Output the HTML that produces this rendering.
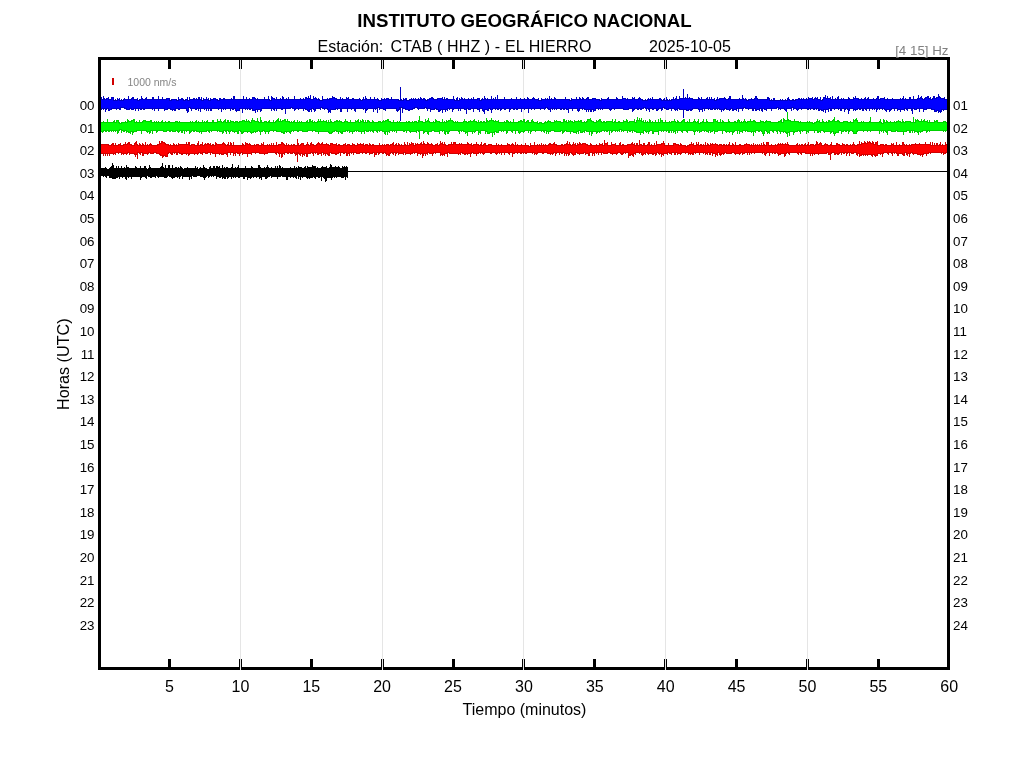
<!DOCTYPE html>
<html><head><meta charset="utf-8"><style>
html,body{margin:0;padding:0;width:1024px;height:768px;overflow:hidden;background:#fff;font-family:"Liberation Sans",sans-serif}
</style></head><body>
<svg width="1024" height="768" viewBox="0 0 1024 768" style="position:absolute;left:0;top:0;will-change:transform"><line x1="240.5" y1="60" x2="240.5" y2="670" stroke="#e5e5e5" stroke-width="1"/><line x1="382.5" y1="60" x2="382.5" y2="670" stroke="#e5e5e5" stroke-width="1"/><line x1="523.5" y1="60" x2="523.5" y2="670" stroke="#e5e5e5" stroke-width="1"/><line x1="665.5" y1="60" x2="665.5" y2="670" stroke="#e5e5e5" stroke-width="1"/><line x1="807.5" y1="60" x2="807.5" y2="670" stroke="#e5e5e5" stroke-width="1"/><path d="M99.5 99V111M100.5 99V112M101.5 97V110M102.5 99V109M103.5 96V110M104.5 98V109M105.5 99V112M106.5 98V110M107.5 98V109M108.5 97V111M109.5 99V111M110.5 99V110M111.5 97V110M112.5 97V109M113.5 97V109M114.5 100V109M115.5 99V109M116.5 100V110M117.5 98V109M118.5 99V109M119.5 98V110M120.5 100V110M121.5 99V108M122.5 100V108M123.5 99V108M124.5 98V109M125.5 99V109M126.5 99V110M127.5 99V110M128.5 96V110M129.5 99V110M130.5 99V109M131.5 98V110M132.5 97V110M133.5 97V110M134.5 99V109M135.5 99V111M136.5 99V109M137.5 98V109M138.5 100V111M139.5 99V109M140.5 99V110M141.5 96V110M142.5 98V109M143.5 99V110M144.5 99V110M145.5 98V109M146.5 97V109M147.5 99V109M148.5 99V109M149.5 99V109M150.5 99V109M151.5 99V109M152.5 97V110M153.5 97V109M154.5 99V111M155.5 99V109M156.5 99V109M157.5 99V109M158.5 96V111M159.5 99V109M160.5 99V109M161.5 99V109M162.5 97V109M163.5 99V109M164.5 99V111M165.5 99V110M166.5 98V110M167.5 98V110M168.5 98V109M169.5 98V109M170.5 100V110M171.5 99V110M172.5 99V111M173.5 99V110M174.5 99V111M175.5 99V111M176.5 99V109M177.5 100V109M178.5 97V110M179.5 99V110M180.5 99V109M181.5 98V109M182.5 98V109M183.5 99V109M184.5 100V109M185.5 99V109M186.5 99V111M187.5 97V113M188.5 100V112M189.5 97V108M190.5 99V109M191.5 99V111M192.5 99V109M193.5 98V109M194.5 98V109M195.5 99V110M196.5 98V110M197.5 99V109M198.5 97V111M199.5 97V109M200.5 99V112M201.5 97V109M202.5 100V109M203.5 98V109M204.5 99V110M205.5 99V109M206.5 97V111M207.5 99V109M208.5 98V111M209.5 100V109M210.5 98V111M211.5 99V111M212.5 99V109M213.5 98V109M214.5 98V109M215.5 98V109M216.5 99V109M217.5 99V109M218.5 100V110M219.5 98V109M220.5 98V109M221.5 99V112M222.5 99V109M223.5 98V110M224.5 98V109M225.5 99V110M226.5 99V109M227.5 99V109M228.5 99V109M229.5 99V109M230.5 99V111M231.5 98V109M232.5 99V110M233.5 96V110M234.5 96V109M235.5 99V111M236.5 99V112M237.5 99V111M238.5 99V111M239.5 99V111M240.5 99V109M241.5 99V109M242.5 99V113M243.5 96V109M244.5 99V109M245.5 99V110M246.5 97V109M247.5 99V110M248.5 99V109M249.5 98V110M250.5 99V110M251.5 99V109M252.5 97V111M253.5 97V111M254.5 97V111M255.5 98V113M256.5 99V110M257.5 98V112M258.5 99V110M259.5 99V110M260.5 99V112M261.5 99V111M262.5 99V109M263.5 99V109M264.5 97V109M265.5 99V109M266.5 99V109M267.5 99V109M268.5 96V109M269.5 99V109M270.5 100V109M271.5 96V111M272.5 97V109M273.5 98V110M274.5 98V111M275.5 99V109M276.5 97V111M277.5 99V109M278.5 99V109M279.5 99V109M280.5 98V109M281.5 99V110M282.5 96V110M283.5 97V109M284.5 99V109M285.5 99V114M286.5 98V109M287.5 99V109M288.5 97V109M289.5 99V109M290.5 99V109M291.5 99V108M292.5 99V109M293.5 99V109M294.5 96V111M295.5 99V110M296.5 99V109M297.5 99V109M298.5 99V110M299.5 99V109M300.5 98V109M301.5 99V109M302.5 99V109M303.5 98V111M304.5 99V109M305.5 97V110M306.5 97V110M307.5 98V111M308.5 96V112M309.5 98V112M310.5 95V110M311.5 99V112M312.5 99V109M313.5 96V110M314.5 98V112M315.5 97V111M316.5 98V109M317.5 99V109M318.5 98V109M319.5 99V109M320.5 100V110M321.5 100V108M322.5 96V109M323.5 99V109M324.5 99V110M325.5 99V109M326.5 99V109M327.5 98V110M328.5 99V113M329.5 98V112M330.5 98V113M331.5 98V110M332.5 96V110M333.5 97V110M334.5 97V110M335.5 98V110M336.5 98V109M337.5 99V110M338.5 99V109M339.5 99V109M340.5 97V112M341.5 99V112M342.5 98V109M343.5 99V109M344.5 99V109M345.5 99V109M346.5 97V109M347.5 98V112M348.5 97V109M349.5 99V109M350.5 99V109M351.5 99V110M352.5 98V109M353.5 98V109M354.5 99V111M355.5 99V112M356.5 99V109M357.5 99V109M358.5 99V109M359.5 98V109M360.5 99V109M361.5 100V109M362.5 99V109M363.5 97V110M364.5 99V109M365.5 96V113M366.5 98V111M367.5 99V110M368.5 99V109M369.5 99V109M370.5 97V109M371.5 99V109M372.5 99V109M373.5 99V112M374.5 97V109M375.5 99V110M376.5 99V109M377.5 98V113M378.5 99V108M379.5 100V110M380.5 100V109M381.5 98V109M382.5 99V109M383.5 99V110M384.5 98V110M385.5 99V111M386.5 98V109M387.5 98V109M388.5 98V109M389.5 99V109M390.5 99V109M391.5 97V109M392.5 99V109M393.5 99V109M394.5 99V109M395.5 99V109M396.5 99V111M397.5 99V112M398.5 99V111M399.5 100V110M400.5 100V108M401.5 99V108M402.5 100V113M403.5 98V109M404.5 99V109M405.5 98V110M406.5 98V110M407.5 100V110M408.5 100V111M409.5 99V111M410.5 99V110M411.5 98V110M412.5 99V110M413.5 98V109M414.5 99V109M415.5 98V108M416.5 99V108M417.5 99V109M418.5 98V110M419.5 99V109M420.5 97V109M421.5 98V109M422.5 99V109M423.5 98V109M424.5 98V109M425.5 99V108M426.5 100V109M427.5 99V111M428.5 99V109M429.5 98V109M430.5 98V112M431.5 97V110M432.5 97V110M433.5 98V110M434.5 99V110M435.5 99V109M436.5 99V110M437.5 98V110M438.5 98V112M439.5 98V112M440.5 98V111M441.5 98V110M442.5 97V113M443.5 99V110M444.5 97V110M445.5 99V112M446.5 98V110M447.5 98V111M448.5 99V109M449.5 99V110M450.5 99V109M451.5 99V109M452.5 99V112M453.5 96V110M454.5 99V109M455.5 100V109M456.5 98V109M457.5 97V109M458.5 100V111M459.5 98V109M460.5 99V111M461.5 97V109M462.5 98V109M463.5 99V109M464.5 98V110M465.5 99V110M466.5 99V114M467.5 99V109M468.5 98V110M469.5 99V110M470.5 99V110M471.5 98V109M472.5 99V109M473.5 97V112M474.5 99V109M475.5 99V109M476.5 99V109M477.5 98V110M478.5 98V110M479.5 98V112M480.5 100V109M481.5 99V109M482.5 98V111M483.5 99V112M484.5 96V114M485.5 98V110M486.5 99V110M487.5 98V111M488.5 99V111M489.5 99V109M490.5 99V110M491.5 96V113M492.5 99V110M493.5 98V109M494.5 99V109M495.5 97V110M496.5 99V109M497.5 95V110M498.5 99V110M499.5 99V109M500.5 99V111M501.5 99V110M502.5 99V109M503.5 99V109M504.5 97V110M505.5 99V110M506.5 99V109M507.5 99V109M508.5 99V109M509.5 99V112M510.5 99V110M511.5 98V109M512.5 99V109M513.5 99V110M514.5 99V110M515.5 99V109M516.5 97V110M517.5 99V110M518.5 99V109M519.5 99V109M520.5 98V109M521.5 99V112M522.5 99V109M523.5 99V109M524.5 98V110M525.5 99V109M526.5 99V109M527.5 97V109M528.5 98V113M529.5 99V109M530.5 99V109M531.5 99V110M532.5 98V109M533.5 97V109M534.5 98V110M535.5 99V109M536.5 99V109M537.5 99V109M538.5 98V109M539.5 100V109M540.5 100V110M541.5 98V109M542.5 99V109M543.5 99V109M544.5 99V110M545.5 98V109M546.5 99V108M547.5 98V109M548.5 99V110M549.5 96V110M550.5 99V112M551.5 98V109M552.5 99V110M553.5 99V109M554.5 97V110M555.5 98V109M556.5 99V110M557.5 99V109M558.5 99V109M559.5 99V109M560.5 99V110M561.5 99V110M562.5 99V109M563.5 99V110M564.5 99V110M565.5 97V109M566.5 99V110M567.5 99V110M568.5 99V113M569.5 99V109M570.5 100V109M571.5 98V109M572.5 99V111M573.5 99V109M574.5 99V109M575.5 99V109M576.5 97V109M577.5 99V111M578.5 99V112M579.5 97V111M580.5 98V109M581.5 99V109M582.5 97V110M583.5 98V109M584.5 99V110M585.5 99V110M586.5 98V112M587.5 97V110M588.5 97V112M589.5 99V110M590.5 99V112M591.5 99V112M592.5 98V110M593.5 98V112M594.5 98V111M595.5 98V111M596.5 99V109M597.5 99V109M598.5 99V110M599.5 99V109M600.5 100V110M601.5 98V109M602.5 99V110M603.5 99V109M604.5 99V109M605.5 99V109M606.5 99V109M607.5 98V109M608.5 97V109M609.5 99V110M610.5 99V111M611.5 99V110M612.5 99V109M613.5 99V109M614.5 99V110M615.5 99V109M616.5 97V109M617.5 98V109M618.5 99V109M619.5 99V109M620.5 99V109M621.5 99V109M622.5 96V109M623.5 98V110M624.5 98V110M625.5 98V110M626.5 99V110M627.5 98V110M628.5 99V110M629.5 99V109M630.5 99V109M631.5 99V109M632.5 97V112M633.5 98V111M634.5 97V110M635.5 99V109M636.5 99V109M637.5 99V110M638.5 98V110M639.5 97V109M640.5 98V110M641.5 99V110M642.5 99V109M643.5 100V109M644.5 100V108M645.5 99V109M646.5 100V111M647.5 99V109M648.5 98V110M649.5 99V112M650.5 98V109M651.5 99V109M652.5 97V110M653.5 99V110M654.5 99V109M655.5 99V109M656.5 99V111M657.5 99V111M658.5 99V110M659.5 98V109M660.5 98V109M661.5 99V111M662.5 100V110M663.5 99V108M664.5 98V109M665.5 100V109M666.5 97V110M667.5 99V110M668.5 100V110M669.5 99V109M670.5 100V109M671.5 99V111M672.5 99V109M673.5 97V109M674.5 99V110M675.5 98V111M676.5 96V110M677.5 99V111M678.5 99V109M679.5 96V110M680.5 98V110M681.5 98V110M682.5 98V110M683.5 98V110M684.5 98V110M685.5 97V110M686.5 98V111M687.5 94V111M688.5 98V111M689.5 97V110M690.5 98V111M691.5 98V111M692.5 98V110M693.5 99V109M694.5 99V109M695.5 99V109M696.5 99V109M697.5 99V109M698.5 97V110M699.5 98V112M700.5 99V110M701.5 97V110M702.5 99V112M703.5 99V109M704.5 99V111M705.5 99V109M706.5 98V109M707.5 97V109M708.5 99V110M709.5 97V109M710.5 99V110M711.5 97V110M712.5 99V110M713.5 99V109M714.5 98V110M715.5 100V110M716.5 99V109M717.5 97V110M718.5 99V109M719.5 98V110M720.5 98V110M721.5 98V112M722.5 98V110M723.5 98V111M724.5 97V110M725.5 98V109M726.5 99V110M727.5 99V110M728.5 98V110M729.5 96V111M730.5 96V110M731.5 99V109M732.5 99V111M733.5 99V111M734.5 99V110M735.5 99V110M736.5 99V111M737.5 99V109M738.5 99V112M739.5 98V109M740.5 99V109M741.5 99V109M742.5 95V111M743.5 98V109M744.5 99V108M745.5 98V109M746.5 99V109M747.5 100V109M748.5 99V110M749.5 99V109M750.5 99V109M751.5 98V109M752.5 99V111M753.5 99V111M754.5 98V109M755.5 96V111M756.5 96V111M757.5 98V110M758.5 99V110M759.5 99V111M760.5 99V109M761.5 99V111M762.5 99V112M763.5 99V109M764.5 99V110M765.5 99V110M766.5 99V111M767.5 97V109M768.5 97V109M769.5 98V109M770.5 100V109M771.5 99V111M772.5 100V109M773.5 98V109M774.5 98V109M775.5 100V109M776.5 100V109M777.5 100V108M778.5 100V110M779.5 100V109M780.5 99V110M781.5 100V109M782.5 99V109M783.5 100V109M784.5 100V110M785.5 99V111M786.5 100V112M787.5 98V109M788.5 97V109M789.5 99V109M790.5 100V109M791.5 100V111M792.5 99V108M793.5 99V110M794.5 100V109M795.5 99V109M796.5 99V110M797.5 99V111M798.5 98V110M799.5 98V109M800.5 99V109M801.5 98V110M802.5 99V109M803.5 98V109M804.5 99V109M805.5 99V109M806.5 98V109M807.5 99V110M808.5 97V110M809.5 98V109M810.5 98V110M811.5 98V109M812.5 97V109M813.5 99V110M814.5 98V110M815.5 97V109M816.5 98V110M817.5 97V109M818.5 99V111M819.5 99V111M820.5 97V110M821.5 100V111M822.5 99V111M823.5 97V112M824.5 97V110M825.5 95V113M826.5 98V110M827.5 96V110M828.5 98V112M829.5 98V109M830.5 97V111M831.5 99V111M832.5 96V109M833.5 99V109M834.5 99V110M835.5 98V109M836.5 99V109M837.5 97V109M838.5 96V110M839.5 99V109M840.5 99V111M841.5 98V111M842.5 99V109M843.5 98V109M844.5 99V112M845.5 99V110M846.5 99V109M847.5 99V110M848.5 97V114M849.5 98V111M850.5 99V109M851.5 99V109M852.5 99V109M853.5 97V111M854.5 98V110M855.5 96V111M856.5 98V110M857.5 98V110M858.5 98V109M859.5 99V110M860.5 99V110M861.5 98V109M862.5 99V111M863.5 99V111M864.5 98V109M865.5 97V110M866.5 99V111M867.5 98V109M868.5 97V109M869.5 99V111M870.5 99V109M871.5 99V109M872.5 99V110M873.5 98V109M874.5 99V110M875.5 99V109M876.5 98V112M877.5 96V110M878.5 96V109M879.5 99V110M880.5 98V109M881.5 98V109M882.5 98V110M883.5 98V109M884.5 97V110M885.5 99V111M886.5 99V112M887.5 98V110M888.5 99V110M889.5 99V112M890.5 99V111M891.5 99V110M892.5 98V109M893.5 99V109M894.5 99V111M895.5 99V109M896.5 99V109M897.5 99V111M898.5 99V110M899.5 99V110M900.5 98V112M901.5 99V110M902.5 98V110M903.5 96V110M904.5 99V111M905.5 98V109M906.5 99V110M907.5 99V111M908.5 99V109M909.5 97V109M910.5 97V109M911.5 99V111M912.5 99V114M913.5 96V109M914.5 99V110M915.5 99V110M916.5 99V110M917.5 98V109M918.5 95V109M919.5 98V112M920.5 97V109M921.5 96V109M922.5 98V109M923.5 99V112M924.5 98V110M925.5 97V110M926.5 97V110M927.5 96V109M928.5 96V109M929.5 98V109M930.5 97V109M931.5 99V110M932.5 98V110M933.5 96V110M934.5 96V112M935.5 98V112M936.5 97V112M937.5 97V111M938.5 94V113M939.5 96V112M940.5 97V113M941.5 98V112M942.5 98V110M943.5 98V111M944.5 97V110M945.5 99V110M946.5 99V110M947.5 99V110M400.5 86.5V120.5M683.5 88.5V117.5" stroke="#0000c0" stroke-width="1" fill="none" shape-rendering="crispEdges"/><path d="M99.5 100V110M100.5 100V109M101.5 100V108M102.5 100V108M103.5 100V108M104.5 100V108M105.5 100V108M106.5 100V108M107.5 99V108M108.5 100V108M109.5 100V109M110.5 100V109M111.5 100V108M112.5 98V108M113.5 101V108M114.5 101V108M115.5 101V108M116.5 101V108M117.5 101V108M118.5 100V108M119.5 101V108M120.5 101V107M121.5 101V107M122.5 101V107M123.5 101V107M124.5 100V107M125.5 100V108M126.5 100V108M127.5 100V109M128.5 100V109M129.5 100V108M130.5 100V108M131.5 100V108M132.5 99V109M133.5 100V108M134.5 100V108M135.5 100V108M136.5 100V108M137.5 101V108M138.5 101V108M139.5 101V108M140.5 100V108M141.5 100V108M142.5 100V108M143.5 100V108M144.5 100V108M145.5 100V108M146.5 100V108M147.5 100V108M148.5 100V108M149.5 100V108M150.5 100V108M151.5 100V108M152.5 100V108M153.5 100V108M154.5 100V108M155.5 100V108M156.5 100V108M157.5 100V108M158.5 100V108M159.5 100V108M160.5 100V108M161.5 100V108M162.5 100V108M163.5 100V108M164.5 100V108M165.5 100V109M166.5 100V109M167.5 99V108M168.5 99V108M169.5 101V108M170.5 101V108M171.5 101V109M172.5 100V109M173.5 100V109M174.5 100V109M175.5 100V108M176.5 101V108M177.5 101V108M178.5 101V108M179.5 100V108M180.5 100V108M181.5 100V108M182.5 100V108M183.5 101V108M184.5 101V108M185.5 101V108M186.5 100V108M187.5 101V110M188.5 101V107M189.5 101V107M190.5 100V107M191.5 100V108M192.5 100V108M193.5 100V108M194.5 100V108M195.5 100V108M196.5 100V108M197.5 100V108M198.5 100V108M199.5 100V108M200.5 100V108M201.5 101V108M202.5 101V108M203.5 101V108M204.5 100V108M205.5 100V108M206.5 100V108M207.5 100V108M208.5 101V108M209.5 101V108M210.5 101V108M211.5 100V108M212.5 100V108M213.5 100V108M214.5 99V108M215.5 100V108M216.5 100V108M217.5 101V108M218.5 101V108M219.5 101V108M220.5 100V108M221.5 100V108M222.5 100V108M223.5 100V108M224.5 100V108M225.5 100V108M226.5 100V108M227.5 100V108M228.5 100V108M229.5 100V108M230.5 100V108M231.5 100V108M232.5 100V108M233.5 100V108M234.5 100V108M235.5 100V108M236.5 100V110M237.5 100V110M238.5 100V110M239.5 100V108M240.5 100V108M241.5 100V108M242.5 100V108M243.5 100V108M244.5 100V108M245.5 100V108M246.5 100V108M247.5 100V108M248.5 100V108M249.5 100V108M250.5 100V108M251.5 100V108M252.5 100V108M253.5 98V110M254.5 99V110M255.5 100V109M256.5 100V109M257.5 100V109M258.5 100V109M259.5 100V109M260.5 100V109M261.5 100V108M262.5 100V108M263.5 100V108M264.5 100V108M265.5 100V108M266.5 100V108M267.5 100V108M268.5 100V108M269.5 101V108M270.5 101V108M271.5 101V108M272.5 99V108M273.5 99V108M274.5 100V108M275.5 100V108M276.5 100V108M277.5 100V108M278.5 100V108M279.5 100V108M280.5 100V108M281.5 100V108M282.5 100V108M283.5 100V108M284.5 100V108M285.5 100V108M286.5 100V108M287.5 100V108M288.5 100V108M289.5 100V108M290.5 100V107M291.5 100V107M292.5 100V107M293.5 100V108M294.5 100V108M295.5 100V108M296.5 100V108M297.5 100V108M298.5 100V108M299.5 100V108M300.5 100V108M301.5 100V108M302.5 100V108M303.5 100V108M304.5 100V108M305.5 100V108M306.5 99V109M307.5 99V109M308.5 99V110M309.5 99V109M310.5 100V109M311.5 100V108M312.5 100V108M313.5 100V108M314.5 99V109M315.5 99V108M316.5 100V108M317.5 100V108M318.5 100V108M319.5 101V108M320.5 101V107M321.5 101V107M322.5 101V107M323.5 100V108M324.5 100V108M325.5 100V108M326.5 100V108M327.5 100V108M328.5 100V109M329.5 100V111M330.5 99V109M331.5 99V109M332.5 99V109M333.5 98V109M334.5 99V109M335.5 99V108M336.5 100V108M337.5 100V108M338.5 100V108M339.5 100V108M340.5 100V108M341.5 100V108M342.5 100V108M343.5 100V108M344.5 100V108M345.5 100V108M346.5 100V108M347.5 99V108M348.5 100V108M349.5 100V108M350.5 100V108M351.5 100V108M352.5 100V108M353.5 100V108M354.5 100V108M355.5 100V108M356.5 100V108M357.5 100V108M358.5 100V108M359.5 100V108M360.5 101V108M361.5 101V108M362.5 101V108M363.5 100V108M364.5 100V108M365.5 100V108M366.5 100V109M367.5 100V108M368.5 100V108M369.5 100V108M370.5 100V108M371.5 100V108M372.5 100V108M373.5 100V108M374.5 100V108M375.5 100V108M376.5 100V108M377.5 100V107M378.5 101V107M379.5 101V107M380.5 101V108M381.5 101V108M382.5 100V108M383.5 100V108M384.5 100V109M385.5 100V108M386.5 100V108M387.5 99V108M388.5 100V108M389.5 100V108M390.5 100V108M391.5 100V108M392.5 100V108M393.5 100V108M394.5 100V108M395.5 100V108M396.5 100V108M397.5 100V110M398.5 101V109M399.5 101V107M400.5 101V107M401.5 101V107M402.5 101V107M403.5 101V108M404.5 100V108M405.5 100V108M406.5 101V109M407.5 101V109M408.5 101V109M409.5 101V109M410.5 100V109M411.5 100V109M412.5 100V108M413.5 100V108M414.5 100V107M415.5 100V107M416.5 100V107M417.5 100V107M418.5 100V108M419.5 100V108M420.5 100V108M421.5 100V108M422.5 100V108M423.5 100V108M424.5 100V107M425.5 101V107M426.5 101V107M427.5 101V108M428.5 100V108M429.5 100V108M430.5 99V108M431.5 99V109M432.5 99V109M433.5 100V109M434.5 100V108M435.5 100V108M436.5 100V108M437.5 100V109M438.5 99V109M439.5 99V110M440.5 99V109M441.5 99V109M442.5 100V109M443.5 100V109M444.5 100V109M445.5 100V109M446.5 100V109M447.5 100V108M448.5 100V108M449.5 100V108M450.5 100V108M451.5 100V108M452.5 100V108M453.5 100V108M454.5 101V108M455.5 101V108M456.5 101V108M457.5 101V108M458.5 101V108M459.5 101V108M460.5 100V108M461.5 100V108M462.5 100V108M463.5 100V108M464.5 100V108M465.5 100V109M466.5 100V108M467.5 100V108M468.5 100V108M469.5 100V109M470.5 100V108M471.5 100V108M472.5 100V108M473.5 100V108M474.5 100V108M475.5 100V108M476.5 100V108M477.5 100V108M478.5 99V109M479.5 101V108M480.5 101V108M481.5 101V108M482.5 100V108M483.5 100V110M484.5 100V109M485.5 100V109M486.5 100V109M487.5 100V109M488.5 100V108M489.5 100V108M490.5 100V108M491.5 100V109M492.5 100V108M493.5 100V108M494.5 100V108M495.5 100V108M496.5 100V108M497.5 100V108M498.5 100V108M499.5 100V108M500.5 100V108M501.5 100V108M502.5 100V108M503.5 100V108M504.5 100V108M505.5 100V108M506.5 100V108M507.5 100V108M508.5 100V108M509.5 100V108M510.5 100V108M511.5 100V108M512.5 100V108M513.5 100V108M514.5 100V108M515.5 100V108M516.5 100V108M517.5 100V108M518.5 100V108M519.5 100V108M520.5 100V108M521.5 100V108M522.5 100V108M523.5 100V108M524.5 100V108M525.5 100V108M526.5 100V108M527.5 100V108M528.5 100V108M529.5 100V108M530.5 100V108M531.5 100V108M532.5 100V108M533.5 99V108M534.5 100V108M535.5 100V108M536.5 100V108M537.5 100V108M538.5 101V108M539.5 101V108M540.5 101V108M541.5 101V108M542.5 100V108M543.5 100V108M544.5 100V108M545.5 100V107M546.5 100V107M547.5 100V107M548.5 100V108M549.5 100V109M550.5 100V108M551.5 100V108M552.5 100V108M553.5 100V108M554.5 100V108M555.5 100V108M556.5 100V108M557.5 100V108M558.5 100V108M559.5 100V108M560.5 100V108M561.5 100V108M562.5 100V108M563.5 100V108M564.5 100V108M565.5 100V108M566.5 100V108M567.5 100V109M568.5 100V108M569.5 101V108M570.5 101V108M571.5 101V108M572.5 100V108M573.5 100V108M574.5 100V108M575.5 100V108M576.5 100V108M577.5 100V108M578.5 100V110M579.5 100V108M580.5 100V108M581.5 100V108M582.5 100V108M583.5 100V108M584.5 100V108M585.5 100V109M586.5 100V109M587.5 99V109M588.5 100V109M589.5 100V109M590.5 100V109M591.5 100V109M592.5 100V109M593.5 99V109M594.5 99V110M595.5 100V108M596.5 100V108M597.5 100V108M598.5 100V108M599.5 101V108M600.5 101V108M601.5 101V108M602.5 100V108M603.5 100V108M604.5 100V108M605.5 100V108M606.5 100V108M607.5 100V108M608.5 100V108M609.5 100V108M610.5 100V109M611.5 100V108M612.5 100V108M613.5 100V108M614.5 100V108M615.5 100V108M616.5 100V108M617.5 100V108M618.5 100V108M619.5 100V108M620.5 100V108M621.5 100V108M622.5 100V108M623.5 99V108M624.5 99V109M625.5 100V109M626.5 100V109M627.5 100V109M628.5 100V108M629.5 100V108M630.5 100V108M631.5 100V108M632.5 100V108M633.5 99V109M634.5 100V108M635.5 100V108M636.5 100V108M637.5 100V108M638.5 100V108M639.5 99V108M640.5 100V108M641.5 100V108M642.5 101V108M643.5 101V107M644.5 101V107M645.5 101V107M646.5 101V108M647.5 101V108M648.5 100V108M649.5 100V108M650.5 100V108M651.5 100V108M652.5 100V108M653.5 100V108M654.5 100V108M655.5 100V108M656.5 100V108M657.5 100V109M658.5 100V108M659.5 100V108M660.5 100V108M661.5 101V108M662.5 101V107M663.5 101V107M664.5 101V107M665.5 101V108M666.5 101V108M667.5 101V109M668.5 101V108M669.5 101V108M670.5 101V108M671.5 101V108M672.5 100V108M673.5 100V108M674.5 100V108M675.5 100V109M676.5 100V109M677.5 100V108M678.5 100V108M679.5 100V108M680.5 99V109M681.5 99V109M682.5 99V109M683.5 99V109M684.5 99V109M685.5 99V109M686.5 99V109M687.5 99V110M688.5 99V109M689.5 99V109M690.5 99V109M691.5 99V109M692.5 100V108M693.5 100V108M694.5 100V108M695.5 100V108M696.5 100V108M697.5 100V108M698.5 100V108M699.5 100V109M700.5 100V109M701.5 100V109M702.5 100V108M703.5 100V108M704.5 100V108M705.5 100V108M706.5 100V108M707.5 100V108M708.5 100V108M709.5 100V108M710.5 100V108M711.5 100V109M712.5 100V108M713.5 100V108M714.5 101V108M715.5 101V108M716.5 101V108M717.5 100V108M718.5 100V108M719.5 100V108M720.5 99V109M721.5 99V109M722.5 99V109M723.5 99V109M724.5 99V108M725.5 100V108M726.5 100V108M727.5 100V109M728.5 100V109M729.5 99V109M730.5 100V108M731.5 100V108M732.5 100V108M733.5 100V109M734.5 100V109M735.5 100V109M736.5 100V108M737.5 100V108M738.5 100V108M739.5 100V108M740.5 100V108M741.5 100V108M742.5 100V108M743.5 100V107M744.5 100V107M745.5 100V107M746.5 101V108M747.5 101V108M748.5 101V108M749.5 100V108M750.5 100V108M751.5 100V108M752.5 100V108M753.5 100V108M754.5 100V108M755.5 99V108M756.5 99V109M757.5 100V109M758.5 100V109M759.5 100V108M760.5 100V108M761.5 100V108M762.5 100V108M763.5 100V108M764.5 100V108M765.5 100V109M766.5 100V108M767.5 100V108M768.5 99V108M769.5 101V108M770.5 101V108M771.5 101V108M772.5 101V108M773.5 101V108M774.5 101V108M775.5 101V108M776.5 101V107M777.5 101V107M778.5 101V107M779.5 101V108M780.5 101V108M781.5 101V108M782.5 101V108M783.5 101V108M784.5 101V108M785.5 101V109M786.5 101V108M787.5 101V108M788.5 100V108M789.5 101V108M790.5 101V108M791.5 101V107M792.5 101V107M793.5 101V107M794.5 101V108M795.5 101V108M796.5 100V108M797.5 100V109M798.5 100V108M799.5 100V108M800.5 100V108M801.5 100V108M802.5 100V108M803.5 100V108M804.5 100V108M805.5 100V108M806.5 100V108M807.5 100V108M808.5 100V108M809.5 99V108M810.5 99V108M811.5 99V108M812.5 100V108M813.5 100V108M814.5 100V108M815.5 99V108M816.5 99V108M817.5 100V108M818.5 100V108M819.5 100V109M820.5 101V109M821.5 101V109M822.5 101V110M823.5 100V109M824.5 98V109M825.5 99V109M826.5 99V109M827.5 99V109M828.5 99V108M829.5 99V108M830.5 100V108M831.5 100V108M832.5 100V108M833.5 100V108M834.5 100V108M835.5 100V108M836.5 100V108M837.5 100V108M838.5 100V108M839.5 100V108M840.5 100V108M841.5 100V108M842.5 100V108M843.5 100V108M844.5 100V108M845.5 100V108M846.5 100V108M847.5 100V108M848.5 100V109M849.5 100V108M850.5 100V108M851.5 100V108M852.5 100V108M853.5 100V108M854.5 99V109M855.5 99V109M856.5 99V109M857.5 99V108M858.5 100V108M859.5 100V108M860.5 100V108M861.5 100V108M862.5 100V108M863.5 100V108M864.5 100V108M865.5 100V108M866.5 100V108M867.5 100V108M868.5 100V108M869.5 100V108M870.5 100V108M871.5 100V108M872.5 100V108M873.5 100V108M874.5 100V108M875.5 100V108M876.5 100V108M877.5 99V108M878.5 100V108M879.5 100V108M880.5 100V108M881.5 99V108M882.5 99V108M883.5 99V108M884.5 100V108M885.5 100V109M886.5 100V109M887.5 100V109M888.5 100V109M889.5 100V109M890.5 100V109M891.5 100V108M892.5 100V108M893.5 100V108M894.5 100V108M895.5 100V108M896.5 100V108M897.5 100V108M898.5 100V109M899.5 100V109M900.5 100V109M901.5 100V109M902.5 100V109M903.5 100V109M904.5 100V108M905.5 100V108M906.5 100V108M907.5 100V108M908.5 100V108M909.5 100V108M910.5 100V108M911.5 100V108M912.5 100V108M913.5 100V108M914.5 100V108M915.5 100V109M916.5 100V108M917.5 100V108M918.5 99V108M919.5 99V108M920.5 99V108M921.5 99V108M922.5 100V108M923.5 100V108M924.5 100V109M925.5 99V109M926.5 98V108M927.5 98V108M928.5 99V108M929.5 99V108M930.5 100V108M931.5 100V108M932.5 100V109M933.5 99V109M934.5 99V109M935.5 99V111M936.5 99V110M937.5 98V110M938.5 98V110M939.5 98V111M940.5 99V111M941.5 99V109M942.5 99V109M943.5 99V109M944.5 100V109M945.5 100V109M946.5 100V109M947.5 100V109" stroke="#0000ff" stroke-width="1" fill="none" shape-rendering="crispEdges"/><path d="M99.5 119V131M100.5 121V132M101.5 122V132M102.5 122V133M103.5 121V132M104.5 122V131M105.5 122V132M106.5 122V132M107.5 119V131M108.5 122V132M109.5 122V132M110.5 122V131M111.5 122V132M112.5 122V131M113.5 121V132M114.5 120V131M115.5 122V132M116.5 120V131M117.5 120V134M118.5 120V133M119.5 122V131M120.5 123V130M121.5 122V133M122.5 122V131M123.5 122V132M124.5 122V132M125.5 121V131M126.5 122V133M127.5 119V132M128.5 120V133M129.5 121V133M130.5 121V134M131.5 120V132M132.5 120V135M133.5 119V133M134.5 119V132M135.5 122V132M136.5 121V132M137.5 122V131M138.5 122V131M139.5 120V131M140.5 122V131M141.5 122V134M142.5 121V131M143.5 120V131M144.5 120V131M145.5 120V131M146.5 121V132M147.5 121V133M148.5 121V132M149.5 121V134M150.5 120V133M151.5 120V131M152.5 122V134M153.5 122V131M154.5 121V131M155.5 122V131M156.5 121V133M157.5 122V132M158.5 121V131M159.5 122V131M160.5 122V131M161.5 121V131M162.5 120V131M163.5 122V132M164.5 122V132M165.5 121V132M166.5 122V132M167.5 122V131M168.5 121V131M169.5 121V132M170.5 122V132M171.5 122V131M172.5 122V132M173.5 122V132M174.5 122V132M175.5 121V132M176.5 121V131M177.5 121V132M178.5 122V133M179.5 121V132M180.5 122V131M181.5 122V133M182.5 122V133M183.5 122V131M184.5 122V134M185.5 122V131M186.5 122V132M187.5 122V131M188.5 122V131M189.5 122V134M190.5 121V133M191.5 122V132M192.5 121V131M193.5 122V132M194.5 122V132M195.5 121V131M196.5 120V132M197.5 122V132M198.5 121V132M199.5 122V133M200.5 122V132M201.5 122V134M202.5 120V132M203.5 122V132M204.5 121V132M205.5 122V132M206.5 121V132M207.5 120V131M208.5 122V132M209.5 122V133M210.5 122V131M211.5 122V132M212.5 120V131M213.5 120V131M214.5 122V131M215.5 122V131M216.5 122V131M217.5 119V132M218.5 121V131M219.5 121V132M220.5 119V132M221.5 121V132M222.5 122V134M223.5 121V133M224.5 120V131M225.5 119V132M226.5 122V134M227.5 120V131M228.5 120V132M229.5 122V134M230.5 120V132M231.5 121V131M232.5 121V132M233.5 121V132M234.5 122V133M235.5 121V132M236.5 121V132M237.5 121V134M238.5 122V134M239.5 121V131M240.5 121V132M241.5 121V134M242.5 120V134M243.5 120V133M244.5 120V132M245.5 121V132M246.5 119V132M247.5 121V133M248.5 120V132M249.5 121V132M250.5 122V133M251.5 120V134M252.5 118V133M253.5 120V133M254.5 120V132M255.5 121V133M256.5 121V132M257.5 118V132M258.5 121V131M259.5 122V132M260.5 117V135M261.5 120V132M262.5 122V132M263.5 122V131M264.5 121V132M265.5 121V134M266.5 121V132M267.5 122V132M268.5 121V134M269.5 120V132M270.5 122V131M271.5 122V131M272.5 122V131M273.5 120V132M274.5 122V131M275.5 121V131M276.5 120V132M277.5 119V132M278.5 118V132M279.5 121V132M280.5 119V132M281.5 121V133M282.5 120V133M283.5 120V134M284.5 119V134M285.5 119V132M286.5 121V133M287.5 119V132M288.5 121V132M289.5 121V133M290.5 122V134M291.5 121V132M292.5 122V131M293.5 121V132M294.5 120V131M295.5 122V131M296.5 122V131M297.5 120V132M298.5 122V132M299.5 121V131M300.5 122V131M301.5 121V131M302.5 122V132M303.5 122V132M304.5 122V132M305.5 122V132M306.5 121V132M307.5 120V132M308.5 122V131M309.5 119V131M310.5 119V131M311.5 121V131M312.5 120V132M313.5 122V131M314.5 121V131M315.5 122V132M316.5 122V132M317.5 121V132M318.5 119V134M319.5 121V132M320.5 119V132M321.5 121V132M322.5 121V132M323.5 120V132M324.5 121V132M325.5 121V132M326.5 120V132M327.5 122V132M328.5 120V133M329.5 122V134M330.5 119V134M331.5 121V134M332.5 122V133M333.5 122V132M334.5 121V132M335.5 121V131M336.5 120V132M337.5 120V132M338.5 121V134M339.5 120V132M340.5 121V133M341.5 121V134M342.5 122V134M343.5 122V132M344.5 121V132M345.5 119V132M346.5 121V131M347.5 121V132M348.5 122V131M349.5 122V133M350.5 120V132M351.5 122V132M352.5 122V134M353.5 122V132M354.5 122V132M355.5 120V131M356.5 121V132M357.5 120V131M358.5 119V132M359.5 122V132M360.5 120V132M361.5 121V134M362.5 119V132M363.5 120V132M364.5 122V134M365.5 120V131M366.5 122V132M367.5 120V132M368.5 120V132M369.5 121V131M370.5 122V132M371.5 122V131M372.5 120V132M373.5 121V133M374.5 122V131M375.5 122V131M376.5 122V132M377.5 122V133M378.5 121V131M379.5 121V132M380.5 121V131M381.5 122V131M382.5 121V132M383.5 120V132M384.5 121V134M385.5 120V135M386.5 120V132M387.5 119V135M388.5 119V132M389.5 121V133M390.5 121V131M391.5 122V131M392.5 122V132M393.5 120V131M394.5 122V132M395.5 122V131M396.5 122V133M397.5 121V131M398.5 122V131M399.5 121V131M400.5 122V131M401.5 122V131M402.5 122V131M403.5 122V132M404.5 122V132M405.5 122V131M406.5 121V133M407.5 122V131M408.5 121V131M409.5 121V132M410.5 122V133M411.5 122V132M412.5 121V132M413.5 122V132M414.5 121V132M415.5 121V132M416.5 121V133M417.5 122V131M418.5 120V132M419.5 121V131M420.5 121V131M421.5 121V131M422.5 121V131M423.5 122V134M424.5 122V133M425.5 119V132M426.5 121V132M427.5 120V134M428.5 118V135M429.5 121V132M430.5 122V132M431.5 122V132M432.5 122V131M433.5 121V131M434.5 122V132M435.5 119V132M436.5 120V132M437.5 121V132M438.5 121V132M439.5 121V134M440.5 122V131M441.5 122V131M442.5 119V132M443.5 122V131M444.5 121V134M445.5 122V135M446.5 120V132M447.5 121V134M448.5 120V134M449.5 120V132M450.5 118V131M451.5 120V131M452.5 120V131M453.5 121V131M454.5 122V131M455.5 121V131M456.5 122V131M457.5 121V131M458.5 122V132M459.5 122V134M460.5 122V131M461.5 122V132M462.5 122V131M463.5 121V132M464.5 119V132M465.5 121V134M466.5 121V133M467.5 122V136M468.5 121V132M469.5 121V132M470.5 120V132M471.5 121V132M472.5 121V134M473.5 120V132M474.5 119V133M475.5 121V132M476.5 121V131M477.5 122V131M478.5 120V135M479.5 122V133M480.5 121V134M481.5 121V131M482.5 122V131M483.5 121V131M484.5 121V131M485.5 122V134M486.5 118V132M487.5 120V134M488.5 121V134M489.5 120V134M490.5 120V133M491.5 118V133M492.5 120V133M493.5 120V133M494.5 121V135M495.5 120V132M496.5 121V133M497.5 121V133M498.5 120V133M499.5 122V131M500.5 122V131M501.5 122V132M502.5 122V131M503.5 122V132M504.5 121V131M505.5 122V131M506.5 120V134M507.5 120V133M508.5 121V131M509.5 122V131M510.5 121V131M511.5 122V132M512.5 122V133M513.5 119V131M514.5 122V131M515.5 122V134M516.5 122V131M517.5 122V131M518.5 121V133M519.5 121V134M520.5 120V133M521.5 120V132M522.5 121V132M523.5 119V133M524.5 119V132M525.5 122V131M526.5 121V131M527.5 120V131M528.5 120V133M529.5 122V131M530.5 122V134M531.5 120V132M532.5 119V131M533.5 121V131M534.5 122V131M535.5 122V132M536.5 122V131M537.5 121V131M538.5 123V131M539.5 122V131M540.5 122V131M541.5 122V132M542.5 123V131M543.5 123V132M544.5 122V133M545.5 121V131M546.5 122V134M547.5 121V132M548.5 120V134M549.5 121V132M550.5 121V132M551.5 122V131M552.5 122V131M553.5 122V131M554.5 120V132M555.5 121V132M556.5 120V132M557.5 121V132M558.5 121V132M559.5 121V132M560.5 121V132M561.5 122V131M562.5 122V134M563.5 119V133M564.5 119V132M565.5 121V131M566.5 120V132M567.5 122V132M568.5 120V132M569.5 121V132M570.5 120V134M571.5 121V132M572.5 121V132M573.5 122V133M574.5 120V133M575.5 121V133M576.5 121V134M577.5 121V132M578.5 120V134M579.5 121V131M580.5 120V133M581.5 120V133M582.5 122V133M583.5 122V132M584.5 121V133M585.5 122V131M586.5 121V132M587.5 119V132M588.5 119V132M589.5 119V135M590.5 118V132M591.5 120V136M592.5 121V134M593.5 121V132M594.5 122V132M595.5 122V132M596.5 120V134M597.5 121V133M598.5 120V132M599.5 119V133M600.5 119V132M601.5 121V132M602.5 122V131M603.5 121V131M604.5 121V132M605.5 122V131M606.5 121V132M607.5 121V132M608.5 121V131M609.5 121V135M610.5 121V131M611.5 121V133M612.5 119V132M613.5 122V131M614.5 121V131M615.5 119V132M616.5 122V131M617.5 122V132M618.5 121V131M619.5 121V132M620.5 122V130M621.5 122V132M622.5 122V131M623.5 120V132M624.5 121V131M625.5 121V131M626.5 119V131M627.5 120V133M628.5 122V131M629.5 121V132M630.5 121V132M631.5 121V131M632.5 121V133M633.5 121V131M634.5 119V132M635.5 122V132M636.5 120V133M637.5 117V133M638.5 120V133M639.5 118V133M640.5 120V135M641.5 118V133M642.5 121V133M643.5 120V134M644.5 122V131M645.5 120V132M646.5 122V133M647.5 121V132M648.5 122V134M649.5 119V132M650.5 120V131M651.5 122V131M652.5 121V134M653.5 122V134M654.5 122V132M655.5 120V132M656.5 122V132M657.5 122V132M658.5 119V135M659.5 122V131M660.5 118V131M661.5 120V132M662.5 120V131M663.5 122V132M664.5 122V131M665.5 120V131M666.5 122V132M667.5 122V131M668.5 122V133M669.5 121V133M670.5 122V131M671.5 121V133M672.5 121V131M673.5 121V133M674.5 119V132M675.5 121V134M676.5 122V131M677.5 120V133M678.5 121V131M679.5 122V131M680.5 122V131M681.5 121V132M682.5 120V133M683.5 119V131M684.5 119V131M685.5 122V131M686.5 122V132M687.5 121V133M688.5 122V131M689.5 119V131M690.5 122V131M691.5 122V131M692.5 122V131M693.5 121V132M694.5 119V135M695.5 121V132M696.5 122V131M697.5 121V132M698.5 119V131M699.5 123V133M700.5 122V132M701.5 122V132M702.5 121V131M703.5 119V131M704.5 122V132M705.5 122V131M706.5 119V132M707.5 121V132M708.5 122V133M709.5 122V131M710.5 122V133M711.5 122V132M712.5 122V132M713.5 119V131M714.5 119V134M715.5 119V132M716.5 121V132M717.5 120V132M718.5 122V131M719.5 122V131M720.5 119V131M721.5 122V131M722.5 120V134M723.5 121V131M724.5 122V131M725.5 122V132M726.5 122V133M727.5 122V132M728.5 119V132M729.5 121V133M730.5 122V132M731.5 122V132M732.5 122V135M733.5 122V133M734.5 121V132M735.5 121V131M736.5 122V131M737.5 120V134M738.5 119V131M739.5 120V134M740.5 122V132M741.5 121V132M742.5 122V133M743.5 121V131M744.5 119V131M745.5 121V132M746.5 122V131M747.5 121V132M748.5 121V132M749.5 121V132M750.5 119V132M751.5 121V133M752.5 121V132M753.5 120V136M754.5 120V132M755.5 121V133M756.5 122V131M757.5 122V131M758.5 122V132M759.5 122V132M760.5 120V131M761.5 121V132M762.5 121V134M763.5 121V136M764.5 122V134M765.5 121V131M766.5 120V132M767.5 121V134M768.5 121V133M769.5 121V134M770.5 121V131M771.5 122V131M772.5 122V132M773.5 122V133M774.5 122V131M775.5 122V131M776.5 122V132M777.5 122V134M778.5 121V131M779.5 121V132M780.5 120V134M781.5 119V132M782.5 122V132M783.5 118V133M784.5 119V132M785.5 120V133M786.5 120V134M787.5 119V133M788.5 119V133M789.5 120V136M790.5 120V132M791.5 121V132M792.5 121V132M793.5 121V135M794.5 119V133M795.5 121V132M796.5 121V132M797.5 121V132M798.5 121V131M799.5 122V132M800.5 121V134M801.5 122V131M802.5 122V132M803.5 122V131M804.5 122V131M805.5 122V131M806.5 122V134M807.5 121V132M808.5 122V133M809.5 121V131M810.5 122V131M811.5 122V131M812.5 122V131M813.5 123V131M814.5 122V133M815.5 122V131M816.5 121V131M817.5 119V133M818.5 121V133M819.5 120V132M820.5 122V133M821.5 122V131M822.5 119V131M823.5 121V132M824.5 122V133M825.5 122V132M826.5 121V132M827.5 122V132M828.5 120V132M829.5 120V132M830.5 121V134M831.5 121V133M832.5 120V132M833.5 119V134M834.5 117V136M835.5 121V134M836.5 121V133M837.5 120V133M838.5 120V133M839.5 121V131M840.5 122V131M841.5 122V134M842.5 122V132M843.5 121V132M844.5 121V131M845.5 121V132M846.5 121V132M847.5 121V131M848.5 122V134M849.5 122V132M850.5 121V131M851.5 122V131M852.5 122V132M853.5 119V134M854.5 120V134M855.5 119V134M856.5 118V134M857.5 120V132M858.5 122V131M859.5 122V131M860.5 122V131M861.5 121V131M862.5 122V131M863.5 121V132M864.5 122V131M865.5 122V131M866.5 122V131M867.5 122V132M868.5 122V131M869.5 121V131M870.5 117V132M871.5 122V131M872.5 122V131M873.5 122V131M874.5 122V131M875.5 122V131M876.5 122V131M877.5 122V131M878.5 122V131M879.5 121V134M880.5 119V131M881.5 122V132M882.5 123V131M883.5 119V133M884.5 120V131M885.5 122V132M886.5 120V133M887.5 121V135M888.5 122V131M889.5 122V131M890.5 121V131M891.5 122V132M892.5 122V132M893.5 122V132M894.5 121V132M895.5 122V132M896.5 121V131M897.5 121V132M898.5 120V132M899.5 121V132M900.5 121V132M901.5 122V132M902.5 119V132M903.5 121V135M904.5 122V132M905.5 121V132M906.5 121V132M907.5 121V131M908.5 121V131M909.5 121V133M910.5 121V133M911.5 122V131M912.5 122V133M913.5 117V131M914.5 122V133M915.5 119V132M916.5 120V132M917.5 119V133M918.5 120V135M919.5 121V132M920.5 121V133M921.5 119V132M922.5 121V132M923.5 120V131M924.5 119V131M925.5 121V131M926.5 121V133M927.5 120V132M928.5 122V131M929.5 120V132M930.5 122V131M931.5 122V131M932.5 122V131M933.5 122V131M934.5 120V131M935.5 121V131M936.5 120V131M937.5 120V131M938.5 122V131M939.5 122V131M940.5 122V131M941.5 122V131M942.5 122V131M943.5 121V132M944.5 121V131M945.5 121V132M946.5 122V131M947.5 121V131M419.5 115.5V138.5M492.5 124.0V136.5M787.5 111.5V136.5" stroke="#00d000" stroke-width="1" fill="none" shape-rendering="crispEdges"/><path d="M99.5 122V130M100.5 123V130M101.5 123V131M102.5 123V131M103.5 123V130M104.5 123V130M105.5 123V130M106.5 123V130M107.5 123V130M108.5 123V130M109.5 123V130M110.5 123V130M111.5 123V130M112.5 123V130M113.5 123V130M114.5 123V130M115.5 123V130M116.5 123V130M117.5 121V130M118.5 123V130M119.5 124V129M120.5 124V129M121.5 124V129M122.5 123V130M123.5 123V130M124.5 123V130M125.5 123V130M126.5 123V130M127.5 123V131M128.5 122V131M129.5 122V132M130.5 122V131M131.5 122V131M132.5 121V131M133.5 121V131M134.5 123V131M135.5 123V131M136.5 123V130M137.5 123V130M138.5 123V130M139.5 123V130M140.5 123V130M141.5 123V130M142.5 123V130M143.5 122V130M144.5 121V130M145.5 122V130M146.5 122V130M147.5 122V131M148.5 122V131M149.5 122V131M150.5 122V130M151.5 123V130M152.5 123V130M153.5 123V130M154.5 123V130M155.5 123V130M156.5 123V130M157.5 123V130M158.5 123V130M159.5 123V130M160.5 123V130M161.5 123V130M162.5 123V130M163.5 123V130M164.5 123V131M165.5 123V131M166.5 123V130M167.5 123V130M168.5 123V130M169.5 123V130M170.5 123V130M171.5 123V130M172.5 123V130M173.5 123V131M174.5 123V131M175.5 123V130M176.5 122V130M177.5 123V130M178.5 123V131M179.5 123V130M180.5 123V130M181.5 123V130M182.5 123V130M183.5 123V130M184.5 123V130M185.5 123V130M186.5 123V130M187.5 123V130M188.5 123V130M189.5 123V130M190.5 123V131M191.5 123V130M192.5 123V130M193.5 123V130M194.5 123V130M195.5 123V130M196.5 123V130M197.5 123V131M198.5 123V131M199.5 123V131M200.5 123V131M201.5 123V131M202.5 123V131M203.5 123V131M204.5 123V131M205.5 123V131M206.5 123V130M207.5 123V130M208.5 123V130M209.5 123V130M210.5 123V130M211.5 123V130M212.5 123V130M213.5 123V130M214.5 123V130M215.5 123V130M216.5 123V130M217.5 123V130M218.5 122V130M219.5 122V130M220.5 122V131M221.5 123V131M222.5 123V131M223.5 123V130M224.5 122V130M225.5 123V130M226.5 123V130M227.5 123V130M228.5 123V130M229.5 123V131M230.5 123V130M231.5 122V130M232.5 122V130M233.5 123V131M234.5 123V131M235.5 123V131M236.5 122V131M237.5 123V131M238.5 123V130M239.5 123V130M240.5 122V130M241.5 122V131M242.5 122V132M243.5 121V131M244.5 122V131M245.5 122V131M246.5 122V131M247.5 122V131M248.5 122V131M249.5 123V131M250.5 123V131M251.5 123V132M252.5 121V132M253.5 121V131M254.5 122V131M255.5 122V131M256.5 122V131M257.5 122V130M258.5 123V130M259.5 123V130M260.5 123V131M261.5 123V131M262.5 123V130M263.5 123V130M264.5 123V130M265.5 122V131M266.5 123V131M267.5 123V131M268.5 123V131M269.5 123V130M270.5 123V130M271.5 123V130M272.5 123V130M273.5 123V130M274.5 123V130M275.5 123V130M276.5 122V130M277.5 121V131M278.5 122V131M279.5 122V131M280.5 122V131M281.5 122V131M282.5 122V132M283.5 121V132M284.5 121V131M285.5 122V131M286.5 122V131M287.5 122V131M288.5 122V131M289.5 123V131M290.5 123V131M291.5 123V130M292.5 123V130M293.5 123V130M294.5 123V130M295.5 123V130M296.5 123V130M297.5 123V130M298.5 123V130M299.5 123V130M300.5 123V130M301.5 123V130M302.5 123V130M303.5 123V131M304.5 123V131M305.5 123V131M306.5 123V131M307.5 123V130M308.5 123V130M309.5 123V130M310.5 122V130M311.5 122V130M312.5 123V130M313.5 123V130M314.5 123V130M315.5 123V130M316.5 123V131M317.5 123V131M318.5 122V131M319.5 122V131M320.5 122V131M321.5 122V131M322.5 122V131M323.5 122V131M324.5 122V131M325.5 122V131M326.5 123V131M327.5 123V131M328.5 123V131M329.5 123V132M330.5 123V133M331.5 123V132M332.5 123V131M333.5 123V131M334.5 123V130M335.5 122V130M336.5 122V130M337.5 122V131M338.5 122V131M339.5 122V131M340.5 122V131M341.5 123V132M342.5 123V131M343.5 123V131M344.5 123V131M345.5 122V130M346.5 122V130M347.5 123V130M348.5 123V130M349.5 123V130M350.5 123V131M351.5 123V131M352.5 123V131M353.5 123V131M354.5 123V130M355.5 123V130M356.5 122V130M357.5 122V130M358.5 123V130M359.5 123V131M360.5 123V131M361.5 122V131M362.5 122V131M363.5 123V131M364.5 123V130M365.5 123V130M366.5 123V130M367.5 123V131M368.5 122V130M369.5 123V130M370.5 123V130M371.5 123V130M372.5 123V130M373.5 123V130M374.5 123V130M375.5 123V130M376.5 123V130M377.5 123V130M378.5 123V130M379.5 122V130M380.5 123V130M381.5 123V130M382.5 123V130M383.5 122V131M384.5 122V131M385.5 122V131M386.5 121V131M387.5 121V131M388.5 122V131M389.5 122V130M390.5 123V130M391.5 123V130M392.5 123V130M393.5 123V130M394.5 123V130M395.5 123V130M396.5 123V130M397.5 123V130M398.5 123V130M399.5 123V130M400.5 123V130M401.5 123V130M402.5 123V130M403.5 123V130M404.5 123V130M405.5 123V130M406.5 123V130M407.5 123V130M408.5 123V130M409.5 123V130M410.5 123V131M411.5 123V131M412.5 123V131M413.5 123V131M414.5 123V131M415.5 122V131M416.5 123V130M417.5 123V130M418.5 123V130M419.5 122V130M420.5 122V130M421.5 122V130M422.5 123V130M423.5 123V130M424.5 123V131M425.5 123V131M426.5 122V131M427.5 122V131M428.5 122V131M429.5 123V131M430.5 123V131M431.5 123V130M432.5 123V130M433.5 123V130M434.5 123V130M435.5 123V131M436.5 122V131M437.5 122V131M438.5 122V131M439.5 123V130M440.5 123V130M441.5 123V130M442.5 123V130M443.5 123V130M444.5 123V130M445.5 123V131M446.5 123V131M447.5 122V131M448.5 122V131M449.5 121V130M450.5 121V130M451.5 121V130M452.5 122V130M453.5 123V130M454.5 123V130M455.5 123V130M456.5 123V130M457.5 123V130M458.5 123V130M459.5 123V130M460.5 123V130M461.5 123V130M462.5 123V130M463.5 123V130M464.5 122V131M465.5 122V131M466.5 123V132M467.5 123V131M468.5 123V131M469.5 122V131M470.5 122V131M471.5 122V131M472.5 122V131M473.5 122V131M474.5 122V131M475.5 122V130M476.5 123V130M477.5 123V130M478.5 123V130M479.5 123V132M480.5 123V130M481.5 123V130M482.5 123V130M483.5 123V130M484.5 123V130M485.5 123V130M486.5 123V131M487.5 122V131M488.5 122V133M489.5 122V132M490.5 121V132M491.5 121V132M492.5 121V132M493.5 122V132M494.5 122V131M495.5 122V131M496.5 122V131M497.5 122V132M498.5 123V130M499.5 123V130M500.5 123V130M501.5 123V130M502.5 123V130M503.5 123V130M504.5 123V130M505.5 123V130M506.5 123V130M507.5 122V130M508.5 123V130M509.5 123V130M510.5 123V130M511.5 123V130M512.5 123V130M513.5 123V130M514.5 123V130M515.5 123V130M516.5 123V130M517.5 123V130M518.5 123V130M519.5 122V132M520.5 122V131M521.5 122V131M522.5 122V131M523.5 122V131M524.5 123V130M525.5 123V130M526.5 123V130M527.5 122V130M528.5 123V130M529.5 123V130M530.5 123V130M531.5 123V130M532.5 122V130M533.5 123V130M534.5 123V130M535.5 123V130M536.5 123V130M537.5 124V130M538.5 124V130M539.5 124V130M540.5 123V130M541.5 124V130M542.5 124V130M543.5 124V130M544.5 124V130M545.5 123V130M546.5 123V130M547.5 123V131M548.5 122V131M549.5 122V131M550.5 123V130M551.5 123V130M552.5 123V130M553.5 123V130M554.5 123V130M555.5 122V131M556.5 122V131M557.5 122V131M558.5 122V131M559.5 122V131M560.5 123V130M561.5 123V130M562.5 123V130M563.5 123V131M564.5 122V130M565.5 122V130M566.5 123V130M567.5 123V131M568.5 123V131M569.5 122V131M570.5 122V131M571.5 122V131M572.5 123V131M573.5 123V131M574.5 123V132M575.5 122V132M576.5 122V131M577.5 122V131M578.5 122V130M579.5 122V130M580.5 122V130M581.5 123V132M582.5 123V131M583.5 123V131M584.5 123V130M585.5 123V130M586.5 123V130M587.5 122V131M588.5 120V131M589.5 120V131M590.5 121V131M591.5 122V131M592.5 122V131M593.5 123V131M594.5 123V131M595.5 123V131M596.5 123V131M597.5 122V131M598.5 122V131M599.5 121V131M600.5 122V131M601.5 123V130M602.5 123V130M603.5 123V130M604.5 123V130M605.5 123V130M606.5 123V130M607.5 122V130M608.5 122V130M609.5 122V130M610.5 122V130M611.5 122V130M612.5 123V130M613.5 123V130M614.5 123V130M615.5 123V130M616.5 123V130M617.5 123V130M618.5 123V130M619.5 123V129M620.5 123V129M621.5 123V129M622.5 123V130M623.5 123V130M624.5 122V130M625.5 122V130M626.5 122V130M627.5 123V130M628.5 123V130M629.5 123V130M630.5 122V130M631.5 122V130M632.5 122V130M633.5 122V130M634.5 123V130M635.5 123V131M636.5 123V131M637.5 121V132M638.5 121V132M639.5 121V132M640.5 121V132M641.5 122V132M642.5 122V132M643.5 123V130M644.5 123V130M645.5 123V130M646.5 123V131M647.5 123V131M648.5 123V131M649.5 123V130M650.5 123V130M651.5 123V130M652.5 123V130M653.5 123V131M654.5 123V131M655.5 123V131M656.5 123V131M657.5 123V131M658.5 123V130M659.5 123V130M660.5 123V130M661.5 121V130M662.5 123V130M663.5 123V130M664.5 123V130M665.5 123V130M666.5 123V130M667.5 123V130M668.5 123V130M669.5 123V130M670.5 123V130M671.5 123V130M672.5 122V130M673.5 122V130M674.5 122V131M675.5 123V130M676.5 123V130M677.5 123V130M678.5 123V130M679.5 123V130M680.5 123V130M681.5 123V130M682.5 122V130M683.5 121V130M684.5 123V130M685.5 123V130M686.5 123V130M687.5 123V130M688.5 123V130M689.5 123V130M690.5 123V130M691.5 123V130M692.5 123V130M693.5 123V130M694.5 122V131M695.5 123V130M696.5 123V130M697.5 123V130M698.5 124V130M699.5 124V130M700.5 124V131M701.5 123V130M702.5 123V130M703.5 123V130M704.5 123V130M705.5 123V130M706.5 123V130M707.5 123V131M708.5 123V130M709.5 123V130M710.5 123V130M711.5 123V131M712.5 123V130M713.5 123V130M714.5 120V130M715.5 122V131M716.5 122V131M717.5 123V130M718.5 123V130M719.5 123V130M720.5 123V130M721.5 123V130M722.5 123V130M723.5 123V130M724.5 123V130M725.5 123V130M726.5 123V131M727.5 123V131M728.5 123V131M729.5 123V131M730.5 123V131M731.5 123V131M732.5 123V131M733.5 123V131M734.5 123V130M735.5 123V130M736.5 123V130M737.5 123V130M738.5 121V130M739.5 123V130M740.5 123V131M741.5 123V131M742.5 123V130M743.5 123V130M744.5 122V130M745.5 123V130M746.5 123V130M747.5 123V130M748.5 122V131M749.5 122V131M750.5 122V131M751.5 122V131M752.5 122V131M753.5 122V131M754.5 122V131M755.5 123V130M756.5 123V130M757.5 123V130M758.5 123V130M759.5 123V130M760.5 123V130M761.5 122V130M762.5 122V131M763.5 123V133M764.5 123V130M765.5 123V130M766.5 122V130M767.5 122V131M768.5 122V132M769.5 122V130M770.5 123V130M771.5 123V130M772.5 123V130M773.5 123V130M774.5 123V130M775.5 123V130M776.5 123V130M777.5 123V130M778.5 123V130M779.5 122V130M780.5 122V131M781.5 123V131M782.5 123V131M783.5 123V131M784.5 121V131M785.5 121V131M786.5 121V132M787.5 121V132M788.5 121V132M789.5 121V131M790.5 122V131M791.5 122V131M792.5 122V131M793.5 122V131M794.5 122V131M795.5 122V131M796.5 122V131M797.5 122V130M798.5 123V130M799.5 123V130M800.5 123V130M801.5 123V130M802.5 123V130M803.5 123V130M804.5 123V130M805.5 123V130M806.5 123V130M807.5 123V131M808.5 123V130M809.5 123V130M810.5 123V130M811.5 123V130M812.5 124V130M813.5 124V130M814.5 124V130M815.5 123V130M816.5 123V130M817.5 122V130M818.5 122V131M819.5 123V131M820.5 123V130M821.5 123V130M822.5 123V130M823.5 123V130M824.5 123V131M825.5 123V131M826.5 123V131M827.5 123V131M828.5 123V131M829.5 122V131M830.5 122V131M831.5 122V131M832.5 122V131M833.5 121V131M834.5 122V133M835.5 122V132M836.5 122V132M837.5 122V132M838.5 122V130M839.5 123V130M840.5 123V130M841.5 123V130M842.5 123V131M843.5 123V130M844.5 122V130M845.5 122V130M846.5 122V130M847.5 123V130M848.5 123V130M849.5 123V130M850.5 123V130M851.5 123V130M852.5 123V130M853.5 123V131M854.5 121V133M855.5 121V133M856.5 121V131M857.5 123V130M858.5 123V130M859.5 123V130M860.5 123V130M861.5 123V130M862.5 123V130M863.5 123V130M864.5 123V130M865.5 123V130M866.5 123V130M867.5 123V130M868.5 123V130M869.5 123V130M870.5 123V130M871.5 123V130M872.5 123V130M873.5 123V130M874.5 123V130M875.5 123V130M876.5 123V130M877.5 123V130M878.5 123V130M879.5 123V130M880.5 123V130M881.5 124V130M882.5 124V130M883.5 124V130M884.5 123V130M885.5 123V130M886.5 123V131M887.5 123V130M888.5 123V130M889.5 123V130M890.5 123V130M891.5 123V130M892.5 123V131M893.5 123V131M894.5 123V131M895.5 123V130M896.5 123V130M897.5 122V130M898.5 122V131M899.5 122V131M900.5 123V131M901.5 123V131M902.5 123V131M903.5 123V131M904.5 123V131M905.5 123V131M906.5 122V130M907.5 122V130M908.5 122V130M909.5 122V130M910.5 123V130M911.5 123V130M912.5 123V130M913.5 123V130M914.5 123V130M915.5 123V131M916.5 121V131M917.5 121V131M918.5 122V131M919.5 122V131M920.5 122V131M921.5 122V131M922.5 122V130M923.5 122V130M924.5 122V130M925.5 122V130M926.5 122V130M927.5 123V130M928.5 123V130M929.5 123V130M930.5 123V130M931.5 123V130M932.5 123V130M933.5 123V130M934.5 123V130M935.5 122V130M936.5 122V130M937.5 123V130M938.5 123V130M939.5 123V130M940.5 123V130M941.5 123V130M942.5 123V130M943.5 123V130M944.5 122V130M945.5 123V130M946.5 123V130M947.5 123V130" stroke="#00ff00" stroke-width="1" fill="none" shape-rendering="crispEdges"/><path d="M99.5 142V155M100.5 143V155M101.5 144V154M102.5 144V154M103.5 144V156M104.5 144V154M105.5 144V156M106.5 144V154M107.5 144V156M108.5 144V154M109.5 145V156M110.5 145V154M111.5 144V154M112.5 143V154M113.5 143V155M114.5 145V154M115.5 143V155M116.5 145V153M117.5 145V153M118.5 144V154M119.5 144V153M120.5 143V153M121.5 145V155M122.5 145V154M123.5 144V155M124.5 144V154M125.5 142V154M126.5 144V155M127.5 143V154M128.5 142V153M129.5 142V155M130.5 144V154M131.5 144V154M132.5 145V154M133.5 145V154M134.5 143V155M135.5 142V157M136.5 141V155M137.5 144V159M138.5 145V153M139.5 143V154M140.5 144V155M141.5 145V153M142.5 143V156M143.5 144V156M144.5 145V154M145.5 142V154M146.5 145V154M147.5 144V155M148.5 145V154M149.5 144V153M150.5 143V154M151.5 144V154M152.5 145V154M153.5 145V154M154.5 145V153M155.5 145V153M156.5 145V154M157.5 144V154M158.5 144V154M159.5 141V155M160.5 143V156M161.5 141V156M162.5 141V158M163.5 142V157M164.5 142V156M165.5 143V157M166.5 144V157M167.5 144V157M168.5 144V154M169.5 145V153M170.5 144V154M171.5 145V155M172.5 145V155M173.5 143V153M174.5 144V154M175.5 145V153M176.5 144V155M177.5 145V155M178.5 143V153M179.5 144V154M180.5 144V154M181.5 144V155M182.5 144V155M183.5 144V154M184.5 144V154M185.5 144V154M186.5 142V155M187.5 144V154M188.5 142V156M189.5 142V155M190.5 145V154M191.5 144V154M192.5 144V154M193.5 144V154M194.5 144V155M195.5 145V154M196.5 145V154M197.5 143V155M198.5 141V154M199.5 145V153M200.5 144V154M201.5 144V154M202.5 142V155M203.5 145V153M204.5 144V153M205.5 143V154M206.5 144V154M207.5 143V154M208.5 143V153M209.5 144V153M210.5 143V155M211.5 145V153M212.5 144V154M213.5 144V154M214.5 145V154M215.5 142V157M216.5 143V154M217.5 144V154M218.5 144V154M219.5 144V155M220.5 144V154M221.5 144V155M222.5 143V155M223.5 142V155M224.5 143V154M225.5 144V154M226.5 145V155M227.5 144V157M228.5 142V153M229.5 145V153M230.5 142V155M231.5 143V153M232.5 145V153M233.5 142V156M234.5 145V154M235.5 145V156M236.5 145V153M237.5 145V154M238.5 145V154M239.5 145V156M240.5 145V154M241.5 145V153M242.5 143V155M243.5 144V154M244.5 145V154M245.5 142V154M246.5 143V154M247.5 143V157M248.5 144V154M249.5 143V154M250.5 144V154M251.5 145V155M252.5 145V153M253.5 145V153M254.5 144V153M255.5 145V154M256.5 144V153M257.5 144V153M258.5 144V153M259.5 145V154M260.5 145V154M261.5 143V154M262.5 144V154M263.5 142V154M264.5 145V155M265.5 145V154M266.5 145V154M267.5 144V154M268.5 145V153M269.5 144V153M270.5 145V153M271.5 143V153M272.5 145V153M273.5 143V153M274.5 145V153M275.5 145V154M276.5 142V155M277.5 145V153M278.5 144V154M279.5 144V157M280.5 144V154M281.5 142V158M282.5 142V157M283.5 143V154M284.5 144V155M285.5 145V153M286.5 143V153M287.5 145V154M288.5 144V154M289.5 145V153M290.5 145V154M291.5 144V154M292.5 145V154M293.5 144V153M294.5 144V154M295.5 145V156M296.5 145V155M297.5 145V153M298.5 143V154M299.5 145V155M300.5 144V156M301.5 143V154M302.5 143V157M303.5 143V155M304.5 145V156M305.5 145V154M306.5 144V157M307.5 142V157M308.5 144V154M309.5 145V154M310.5 143V154M311.5 142V153M312.5 144V154M313.5 144V156M314.5 145V153M315.5 145V154M316.5 144V153M317.5 143V155M318.5 142V155M319.5 143V154M320.5 144V154M321.5 143V156M322.5 142V153M323.5 144V155M324.5 144V154M325.5 144V156M326.5 143V154M327.5 144V155M328.5 144V156M329.5 145V156M330.5 143V153M331.5 143V154M332.5 143V154M333.5 144V154M334.5 144V154M335.5 144V155M336.5 143V155M337.5 145V154M338.5 144V154M339.5 144V153M340.5 145V156M341.5 145V153M342.5 145V153M343.5 144V154M344.5 144V154M345.5 143V153M346.5 145V156M347.5 144V156M348.5 144V154M349.5 144V156M350.5 145V153M351.5 145V154M352.5 143V153M353.5 144V155M354.5 144V153M355.5 145V153M356.5 145V154M357.5 143V154M358.5 144V154M359.5 144V154M360.5 143V153M361.5 144V153M362.5 144V154M363.5 143V153M364.5 145V153M365.5 144V154M366.5 144V154M367.5 144V153M368.5 145V153M369.5 143V155M370.5 144V154M371.5 145V154M372.5 144V154M373.5 144V153M374.5 145V157M375.5 145V155M376.5 145V155M377.5 145V153M378.5 145V155M379.5 143V154M380.5 145V153M381.5 145V153M382.5 144V154M383.5 145V154M384.5 144V153M385.5 145V154M386.5 144V156M387.5 144V155M388.5 144V156M389.5 145V156M390.5 144V154M391.5 144V153M392.5 143V154M393.5 142V155M394.5 145V153M395.5 144V156M396.5 143V154M397.5 145V153M398.5 143V155M399.5 144V154M400.5 145V154M401.5 144V154M402.5 145V154M403.5 145V155M404.5 142V153M405.5 144V155M406.5 145V154M407.5 142V154M408.5 145V154M409.5 143V154M410.5 144V155M411.5 142V154M412.5 143V154M413.5 143V153M414.5 145V154M415.5 143V153M416.5 144V153M417.5 143V156M418.5 144V154M419.5 144V154M420.5 143V155M421.5 142V154M422.5 144V158M423.5 141V156M424.5 143V154M425.5 144V156M426.5 144V154M427.5 142V155M428.5 143V153M429.5 144V154M430.5 144V154M431.5 143V154M432.5 144V156M433.5 145V154M434.5 145V153M435.5 144V154M436.5 144V153M437.5 143V153M438.5 145V153M439.5 144V153M440.5 141V156M441.5 143V155M442.5 142V156M443.5 144V155M444.5 142V156M445.5 144V154M446.5 145V154M447.5 145V157M448.5 144V153M449.5 144V154M450.5 144V154M451.5 142V154M452.5 144V154M453.5 142V154M454.5 142V154M455.5 142V154M456.5 144V154M457.5 144V154M458.5 144V155M459.5 143V154M460.5 144V155M461.5 143V153M462.5 144V154M463.5 144V154M464.5 144V155M465.5 144V155M466.5 144V154M467.5 142V155M468.5 143V154M469.5 144V154M470.5 144V157M471.5 143V154M472.5 145V153M473.5 144V154M474.5 144V154M475.5 144V154M476.5 142V156M477.5 144V154M478.5 144V154M479.5 145V153M480.5 144V154M481.5 142V153M482.5 145V154M483.5 144V155M484.5 143V154M485.5 143V153M486.5 145V153M487.5 145V153M488.5 144V153M489.5 144V153M490.5 144V154M491.5 144V154M492.5 145V153M493.5 145V153M494.5 145V153M495.5 145V154M496.5 143V155M497.5 145V154M498.5 144V153M499.5 145V154M500.5 145V153M501.5 144V155M502.5 145V153M503.5 145V153M504.5 145V155M505.5 145V153M506.5 145V153M507.5 143V153M508.5 144V154M509.5 144V155M510.5 145V153M511.5 144V153M512.5 143V157M513.5 144V154M514.5 145V154M515.5 142V153M516.5 145V153M517.5 144V154M518.5 145V153M519.5 145V153M520.5 145V154M521.5 144V154M522.5 145V153M523.5 145V154M524.5 145V153M525.5 143V154M526.5 145V154M527.5 145V153M528.5 145V153M529.5 146V153M530.5 143V153M531.5 145V153M532.5 145V154M533.5 145V153M534.5 142V155M535.5 145V154M536.5 145V155M537.5 144V154M538.5 145V153M539.5 144V153M540.5 145V153M541.5 143V153M542.5 145V154M543.5 144V154M544.5 145V153M545.5 144V153M546.5 145V153M547.5 145V154M548.5 144V154M549.5 143V154M550.5 143V155M551.5 144V154M552.5 144V155M553.5 143V154M554.5 142V153M555.5 144V156M556.5 144V154M557.5 145V153M558.5 145V153M559.5 145V155M560.5 145V153M561.5 144V154M562.5 144V154M563.5 145V153M564.5 144V156M565.5 144V154M566.5 143V156M567.5 141V154M568.5 144V156M569.5 142V155M570.5 144V153M571.5 145V154M572.5 144V155M573.5 142V156M574.5 144V155M575.5 143V155M576.5 145V153M577.5 143V154M578.5 144V154M579.5 142V155M580.5 143V154M581.5 144V154M582.5 143V154M583.5 143V154M584.5 143V153M585.5 143V155M586.5 144V154M587.5 144V154M588.5 145V156M589.5 145V156M590.5 143V153M591.5 144V153M592.5 145V156M593.5 145V154M594.5 145V156M595.5 145V153M596.5 144V154M597.5 145V153M598.5 145V155M599.5 143V153M600.5 144V153M601.5 144V155M602.5 143V153M603.5 145V154M604.5 140V154M605.5 143V154M606.5 143V154M607.5 142V154M608.5 145V153M609.5 145V153M610.5 145V154M611.5 142V154M612.5 144V155M613.5 144V154M614.5 144V154M615.5 143V154M616.5 145V155M617.5 145V154M618.5 145V153M619.5 143V153M620.5 142V154M621.5 145V155M622.5 144V155M623.5 144V154M624.5 145V153M625.5 145V154M626.5 145V153M627.5 144V153M628.5 144V158M629.5 144V156M630.5 144V156M631.5 143V155M632.5 142V156M633.5 144V157M634.5 143V154M635.5 145V155M636.5 143V153M637.5 143V153M638.5 145V153M639.5 140V154M640.5 144V153M641.5 144V155M642.5 145V156M643.5 143V155M644.5 143V154M645.5 145V155M646.5 145V153M647.5 144V154M648.5 142V155M649.5 142V154M650.5 145V154M651.5 144V154M652.5 145V155M653.5 145V155M654.5 143V154M655.5 145V156M656.5 141V155M657.5 144V153M658.5 144V154M659.5 144V155M660.5 144V154M661.5 143V157M662.5 143V155M663.5 141V156M664.5 143V154M665.5 145V154M666.5 145V154M667.5 145V155M668.5 143V153M669.5 145V154M670.5 145V154M671.5 145V155M672.5 145V153M673.5 143V153M674.5 143V155M675.5 143V155M676.5 144V153M677.5 144V155M678.5 144V154M679.5 145V154M680.5 143V155M681.5 144V154M682.5 145V153M683.5 145V153M684.5 145V153M685.5 145V154M686.5 146V153M687.5 145V153M688.5 145V155M689.5 144V154M690.5 144V155M691.5 142V154M692.5 144V155M693.5 143V155M694.5 145V153M695.5 145V154M696.5 142V153M697.5 144V153M698.5 142V153M699.5 145V155M700.5 144V153M701.5 144V153M702.5 145V153M703.5 144V154M704.5 145V153M705.5 142V155M706.5 145V154M707.5 143V155M708.5 144V153M709.5 145V155M710.5 143V155M711.5 144V153M712.5 143V156M713.5 144V154M714.5 144V154M715.5 143V157M716.5 144V155M717.5 144V156M718.5 145V153M719.5 144V155M720.5 144V156M721.5 144V155M722.5 145V154M723.5 144V155M724.5 144V154M725.5 145V153M726.5 144V154M727.5 145V154M728.5 144V154M729.5 142V154M730.5 145V154M731.5 145V154M732.5 143V153M733.5 144V153M734.5 145V154M735.5 142V155M736.5 145V154M737.5 145V154M738.5 145V154M739.5 144V155M740.5 144V154M741.5 145V153M742.5 145V155M743.5 145V154M744.5 144V154M745.5 144V153M746.5 143V153M747.5 144V155M748.5 144V153M749.5 144V155M750.5 145V153M751.5 144V154M752.5 145V153M753.5 143V153M754.5 145V154M755.5 144V153M756.5 145V153M757.5 144V153M758.5 145V153M759.5 144V153M760.5 145V153M761.5 143V153M762.5 145V154M763.5 142V153M764.5 144V155M765.5 145V156M766.5 142V154M767.5 142V153M768.5 142V153M769.5 145V156M770.5 145V153M771.5 144V153M772.5 145V154M773.5 145V153M774.5 145V154M775.5 144V154M776.5 145V153M777.5 144V154M778.5 143V156M779.5 144V155M780.5 143V155M781.5 144V154M782.5 143V154M783.5 144V154M784.5 144V157M785.5 143V156M786.5 144V154M787.5 142V153M788.5 144V154M789.5 145V155M790.5 145V153M791.5 145V153M792.5 145V153M793.5 145V153M794.5 145V153M795.5 145V153M796.5 144V153M797.5 143V154M798.5 145V155M799.5 144V153M800.5 145V154M801.5 144V155M802.5 144V153M803.5 145V153M804.5 144V153M805.5 143V154M806.5 145V154M807.5 144V154M808.5 142V154M809.5 145V154M810.5 144V156M811.5 144V154M812.5 144V156M813.5 144V154M814.5 145V155M815.5 144V154M816.5 141V154M817.5 142V154M818.5 144V155M819.5 143V154M820.5 142V154M821.5 143V154M822.5 145V154M823.5 145V154M824.5 144V154M825.5 143V154M826.5 144V154M827.5 144V153M828.5 145V155M829.5 145V155M830.5 145V156M831.5 142V154M832.5 145V153M833.5 145V153M834.5 145V155M835.5 145V155M836.5 143V154M837.5 143V155M838.5 144V155M839.5 144V154M840.5 145V153M841.5 145V155M842.5 143V153M843.5 144V154M844.5 144V154M845.5 145V153M846.5 144V156M847.5 144V154M848.5 145V153M849.5 145V156M850.5 144V153M851.5 145V154M852.5 144V154M853.5 142V154M854.5 144V153M855.5 145V153M856.5 145V155M857.5 144V156M858.5 144V154M859.5 141V157M860.5 144V156M861.5 142V156M862.5 143V155M863.5 143V156M864.5 141V155M865.5 142V156M866.5 143V155M867.5 141V156M868.5 142V155M869.5 141V155M870.5 142V155M871.5 143V156M872.5 141V157M873.5 142V155M874.5 144V156M875.5 142V157M876.5 142V156M877.5 141V156M878.5 145V154M879.5 145V154M880.5 144V155M881.5 144V154M882.5 144V157M883.5 144V154M884.5 145V153M885.5 144V153M886.5 144V153M887.5 145V154M888.5 145V155M889.5 145V153M890.5 145V153M891.5 143V154M892.5 144V156M893.5 143V153M894.5 145V154M895.5 145V153M896.5 142V154M897.5 145V156M898.5 145V156M899.5 144V154M900.5 145V154M901.5 145V154M902.5 142V155M903.5 142V156M904.5 144V156M905.5 145V153M906.5 144V155M907.5 145V156M908.5 145V154M909.5 144V157M910.5 145V154M911.5 144V153M912.5 144V154M913.5 144V155M914.5 144V154M915.5 143V154M916.5 144V154M917.5 144V155M918.5 144V155M919.5 143V155M920.5 144V156M921.5 144V155M922.5 144V157M923.5 144V155M924.5 144V154M925.5 142V154M926.5 144V156M927.5 144V154M928.5 144V154M929.5 144V153M930.5 142V154M931.5 145V153M932.5 142V153M933.5 145V153M934.5 143V153M935.5 145V153M936.5 143V153M937.5 143V153M938.5 145V153M939.5 144V153M940.5 142V153M941.5 145V154M942.5 144V153M943.5 145V155M944.5 145V154M945.5 142V154M946.5 144V153M947.5 142V153M297.5 138.5V161.5M830.5 144.0V159.5" stroke="#d00000" stroke-width="1" fill="none" shape-rendering="crispEdges"/><path d="M99.5 144V154M100.5 145V153M101.5 145V153M102.5 145V153M103.5 145V153M104.5 145V153M105.5 145V153M106.5 145V153M107.5 145V153M108.5 146V153M109.5 146V153M110.5 146V153M111.5 146V153M112.5 145V153M113.5 146V153M114.5 146V153M115.5 146V152M116.5 146V152M117.5 146V152M118.5 146V152M119.5 145V152M120.5 146V152M121.5 146V152M122.5 146V153M123.5 146V153M124.5 145V153M125.5 145V153M126.5 145V153M127.5 145V152M128.5 144V152M129.5 145V152M130.5 145V153M131.5 146V153M132.5 146V153M133.5 146V153M134.5 146V153M135.5 144V154M136.5 145V154M137.5 146V152M138.5 146V152M139.5 146V152M140.5 146V152M141.5 146V152M142.5 146V152M143.5 146V153M144.5 146V153M145.5 146V153M146.5 146V153M147.5 146V153M148.5 146V152M149.5 146V152M150.5 145V152M151.5 146V153M152.5 146V153M153.5 146V152M154.5 146V152M155.5 146V152M156.5 146V152M157.5 146V153M158.5 145V153M159.5 145V153M160.5 144V154M161.5 144V155M162.5 143V155M163.5 143V155M164.5 144V155M165.5 145V155M166.5 145V156M167.5 145V153M168.5 146V152M169.5 146V152M170.5 146V152M171.5 146V153M172.5 146V152M173.5 146V152M174.5 146V152M175.5 146V152M176.5 146V152M177.5 146V152M178.5 146V152M179.5 145V152M180.5 145V153M181.5 145V153M182.5 145V153M183.5 145V153M184.5 145V153M185.5 145V153M186.5 145V153M187.5 145V153M188.5 145V153M189.5 146V153M190.5 146V153M191.5 146V153M192.5 145V153M193.5 145V153M194.5 146V153M195.5 146V153M196.5 146V153M197.5 146V153M198.5 146V152M199.5 146V152M200.5 146V152M201.5 145V153M202.5 146V152M203.5 146V152M204.5 146V152M205.5 145V152M206.5 145V153M207.5 145V152M208.5 145V152M209.5 145V152M210.5 146V152M211.5 146V152M212.5 146V152M213.5 146V153M214.5 146V153M215.5 146V153M216.5 145V153M217.5 145V153M218.5 145V153M219.5 145V153M220.5 145V153M221.5 145V153M222.5 145V154M223.5 144V153M224.5 145V153M225.5 146V153M226.5 146V153M227.5 146V152M228.5 146V152M229.5 146V152M230.5 146V152M231.5 146V152M232.5 146V152M233.5 146V152M234.5 146V153M235.5 146V152M236.5 146V152M237.5 146V152M238.5 146V153M239.5 146V153M240.5 146V152M241.5 146V152M242.5 146V152M243.5 146V153M244.5 146V153M245.5 146V153M246.5 144V153M247.5 145V153M248.5 145V153M249.5 145V153M250.5 146V153M251.5 146V152M252.5 146V152M253.5 146V152M254.5 146V152M255.5 146V152M256.5 146V152M257.5 145V152M258.5 146V152M259.5 146V152M260.5 146V153M261.5 146V153M262.5 145V153M263.5 146V153M264.5 146V153M265.5 146V153M266.5 146V153M267.5 146V152M268.5 146V152M269.5 146V152M270.5 146V152M271.5 146V152M272.5 146V152M273.5 146V152M274.5 146V152M275.5 146V152M276.5 146V152M277.5 146V152M278.5 146V152M279.5 145V153M280.5 145V153M281.5 145V153M282.5 144V153M283.5 145V153M284.5 146V152M285.5 146V152M286.5 146V152M287.5 146V152M288.5 146V152M289.5 146V152M290.5 146V152M291.5 146V153M292.5 146V152M293.5 146V152M294.5 146V152M295.5 146V153M296.5 146V152M297.5 146V152M298.5 146V152M299.5 146V153M300.5 146V153M301.5 145V153M302.5 144V153M303.5 146V154M304.5 146V153M305.5 146V153M306.5 146V153M307.5 145V153M308.5 146V153M309.5 146V153M310.5 146V152M311.5 145V152M312.5 145V152M313.5 146V152M314.5 146V152M315.5 146V152M316.5 146V152M317.5 145V152M318.5 144V153M319.5 145V153M320.5 145V153M321.5 145V152M322.5 145V152M323.5 145V152M324.5 145V153M325.5 145V153M326.5 145V153M327.5 145V153M328.5 146V154M329.5 146V152M330.5 146V152M331.5 144V152M332.5 145V153M333.5 145V153M334.5 145V153M335.5 145V153M336.5 146V153M337.5 146V153M338.5 146V152M339.5 146V152M340.5 146V152M341.5 146V152M342.5 146V152M343.5 146V152M344.5 145V152M345.5 146V152M346.5 146V152M347.5 146V153M348.5 145V153M349.5 146V152M350.5 146V152M351.5 146V152M352.5 146V152M353.5 145V152M354.5 146V152M355.5 146V152M356.5 146V152M357.5 146V153M358.5 145V153M359.5 145V152M360.5 145V152M361.5 145V152M362.5 145V152M363.5 146V152M364.5 146V152M365.5 146V152M366.5 145V152M367.5 146V152M368.5 146V152M369.5 146V152M370.5 146V153M371.5 146V153M372.5 146V152M373.5 146V152M374.5 146V152M375.5 146V154M376.5 146V152M377.5 146V152M378.5 146V152M379.5 146V152M380.5 146V152M381.5 146V152M382.5 146V152M383.5 146V152M384.5 146V152M385.5 146V152M386.5 146V153M387.5 145V154M388.5 146V154M389.5 146V153M390.5 146V152M391.5 145V152M392.5 145V152M393.5 146V152M394.5 146V152M395.5 146V152M396.5 146V152M397.5 146V152M398.5 146V152M399.5 146V153M400.5 146V153M401.5 146V153M402.5 146V153M403.5 146V152M404.5 146V152M405.5 146V152M406.5 146V153M407.5 146V153M408.5 146V153M409.5 146V153M410.5 145V153M411.5 145V153M412.5 144V152M413.5 146V152M414.5 146V152M415.5 146V152M416.5 145V152M417.5 145V152M418.5 145V153M419.5 145V153M420.5 145V153M421.5 145V153M422.5 145V153M423.5 145V153M424.5 145V153M425.5 145V153M426.5 145V153M427.5 145V152M428.5 145V152M429.5 145V152M430.5 145V153M431.5 145V153M432.5 146V153M433.5 146V152M434.5 146V152M435.5 146V152M436.5 145V152M437.5 146V152M438.5 146V152M439.5 146V152M440.5 145V152M441.5 144V154M442.5 145V154M443.5 145V154M444.5 145V153M445.5 146V153M446.5 146V153M447.5 146V152M448.5 146V152M449.5 145V152M450.5 145V153M451.5 145V153M452.5 145V153M453.5 145V153M454.5 143V153M455.5 145V153M456.5 145V153M457.5 145V153M458.5 145V153M459.5 145V153M460.5 145V152M461.5 145V152M462.5 145V152M463.5 145V153M464.5 145V153M465.5 145V153M466.5 145V153M467.5 145V153M468.5 145V153M469.5 145V153M470.5 145V153M471.5 146V152M472.5 146V152M473.5 146V152M474.5 145V153M475.5 145V153M476.5 145V153M477.5 145V153M478.5 146V152M479.5 146V152M480.5 146V152M481.5 146V152M482.5 146V152M483.5 146V153M484.5 145V152M485.5 146V152M486.5 146V152M487.5 146V152M488.5 146V152M489.5 145V152M490.5 145V152M491.5 146V152M492.5 146V152M493.5 146V152M494.5 146V152M495.5 146V152M496.5 146V153M497.5 146V152M498.5 146V152M499.5 146V152M500.5 146V152M501.5 146V152M502.5 146V152M503.5 146V152M504.5 146V152M505.5 146V152M506.5 146V152M507.5 146V152M508.5 145V152M509.5 146V152M510.5 146V152M511.5 146V152M512.5 145V152M513.5 146V153M514.5 146V152M515.5 146V152M516.5 146V152M517.5 146V152M518.5 146V152M519.5 146V152M520.5 146V152M521.5 146V152M522.5 146V152M523.5 146V152M524.5 146V152M525.5 146V152M526.5 146V152M527.5 146V152M528.5 147V152M529.5 147V152M530.5 147V152M531.5 146V152M532.5 146V152M533.5 146V152M534.5 146V152M535.5 146V153M536.5 146V153M537.5 146V152M538.5 146V152M539.5 146V152M540.5 146V152M541.5 146V152M542.5 146V152M543.5 146V152M544.5 146V152M545.5 146V152M546.5 146V152M547.5 146V152M548.5 146V153M549.5 145V153M550.5 145V153M551.5 145V153M552.5 145V153M553.5 145V152M554.5 145V152M555.5 145V152M556.5 146V152M557.5 146V152M558.5 146V152M559.5 146V152M560.5 146V152M561.5 146V152M562.5 146V152M563.5 146V152M564.5 146V152M565.5 145V153M566.5 145V153M567.5 145V153M568.5 145V153M569.5 145V152M570.5 146V152M571.5 146V152M572.5 146V153M573.5 145V154M574.5 145V154M575.5 146V152M576.5 146V152M577.5 146V152M578.5 145V153M579.5 145V153M580.5 145V153M581.5 145V153M582.5 145V153M583.5 144V152M584.5 144V152M585.5 145V152M586.5 145V153M587.5 146V153M588.5 146V153M589.5 146V152M590.5 146V152M591.5 146V152M592.5 146V152M593.5 146V153M594.5 146V152M595.5 146V152M596.5 146V152M597.5 146V152M598.5 146V152M599.5 146V152M600.5 145V152M601.5 145V152M602.5 146V152M603.5 146V152M604.5 146V153M605.5 144V153M606.5 144V153M607.5 146V152M608.5 146V152M609.5 146V152M610.5 146V152M611.5 146V153M612.5 145V153M613.5 145V153M614.5 145V153M615.5 146V153M616.5 146V153M617.5 146V152M618.5 146V152M619.5 146V152M620.5 146V152M621.5 146V153M622.5 146V153M623.5 146V152M624.5 146V152M625.5 146V152M626.5 146V152M627.5 146V152M628.5 145V152M629.5 145V155M630.5 145V154M631.5 145V154M632.5 145V154M633.5 145V153M634.5 146V153M635.5 146V152M636.5 146V152M637.5 146V152M638.5 146V152M639.5 146V152M640.5 145V152M641.5 146V152M642.5 146V154M643.5 146V153M644.5 146V153M645.5 146V152M646.5 146V152M647.5 146V152M648.5 145V153M649.5 146V153M650.5 146V153M651.5 146V153M652.5 146V153M653.5 146V153M654.5 146V153M655.5 146V153M656.5 146V152M657.5 145V152M658.5 145V152M659.5 145V153M660.5 145V153M661.5 145V153M662.5 144V154M663.5 144V153M664.5 146V153M665.5 146V153M666.5 146V153M667.5 146V152M668.5 146V152M669.5 146V152M670.5 146V153M671.5 146V152M672.5 146V152M673.5 146V152M674.5 144V152M675.5 145V152M676.5 145V152M677.5 145V152M678.5 146V153M679.5 146V153M680.5 146V153M681.5 146V152M682.5 146V152M683.5 146V152M684.5 146V152M685.5 147V152M686.5 147V152M687.5 147V152M688.5 146V152M689.5 146V153M690.5 145V153M691.5 145V153M692.5 145V153M693.5 146V152M694.5 146V152M695.5 146V152M696.5 146V152M697.5 145V152M698.5 146V152M699.5 146V152M700.5 146V152M701.5 146V152M702.5 146V152M703.5 146V152M704.5 146V152M705.5 146V152M706.5 146V153M707.5 146V152M708.5 146V152M709.5 146V152M710.5 146V152M711.5 145V152M712.5 145V152M713.5 145V153M714.5 145V153M715.5 145V153M716.5 145V154M717.5 146V152M718.5 146V152M719.5 146V152M720.5 145V154M721.5 146V153M722.5 146V153M723.5 146V153M724.5 146V152M725.5 146V152M726.5 146V152M727.5 146V153M728.5 146V153M729.5 146V153M730.5 146V153M731.5 146V152M732.5 146V152M733.5 146V152M734.5 146V152M735.5 146V153M736.5 146V153M737.5 146V153M738.5 146V153M739.5 146V153M740.5 146V152M741.5 146V152M742.5 146V152M743.5 146V153M744.5 146V152M745.5 145V152M746.5 145V152M747.5 145V152M748.5 145V152M749.5 146V152M750.5 146V152M751.5 146V152M752.5 146V152M753.5 146V152M754.5 146V152M755.5 146V152M756.5 146V152M757.5 146V152M758.5 146V152M759.5 146V152M760.5 146V152M761.5 146V152M762.5 146V152M763.5 146V152M764.5 146V152M765.5 146V153M766.5 146V152M767.5 143V152M768.5 146V152M769.5 146V152M770.5 146V152M771.5 146V152M772.5 146V152M773.5 146V152M774.5 146V152M775.5 146V152M776.5 146V152M777.5 146V152M778.5 145V153M779.5 145V154M780.5 145V153M781.5 145V153M782.5 145V153M783.5 145V153M784.5 145V153M785.5 145V153M786.5 145V152M787.5 145V152M788.5 146V152M789.5 146V152M790.5 146V152M791.5 146V152M792.5 146V152M793.5 146V152M794.5 146V152M795.5 146V152M796.5 146V152M797.5 146V152M798.5 146V152M799.5 146V152M800.5 146V152M801.5 146V152M802.5 146V152M803.5 146V152M804.5 146V152M805.5 146V152M806.5 146V153M807.5 146V153M808.5 146V153M809.5 146V153M810.5 146V153M811.5 145V153M812.5 145V153M813.5 146V153M814.5 146V153M815.5 146V153M816.5 145V153M817.5 145V153M818.5 145V153M819.5 145V153M820.5 144V153M821.5 146V153M822.5 146V153M823.5 146V153M824.5 146V153M825.5 145V153M826.5 145V152M827.5 146V152M828.5 146V152M829.5 146V154M830.5 146V153M831.5 146V152M832.5 146V152M833.5 146V152M834.5 146V152M835.5 146V153M836.5 146V153M837.5 145V153M838.5 145V153M839.5 146V152M840.5 146V152M841.5 146V152M842.5 146V152M843.5 145V152M844.5 146V152M845.5 146V152M846.5 146V152M847.5 146V152M848.5 146V152M849.5 146V152M850.5 146V152M851.5 146V152M852.5 146V153M853.5 145V152M854.5 146V152M855.5 146V152M856.5 146V152M857.5 146V153M858.5 145V153M859.5 145V153M860.5 145V155M861.5 145V154M862.5 144V154M863.5 144V154M864.5 144V154M865.5 144V154M866.5 144V154M867.5 144V154M868.5 143V154M869.5 143V154M870.5 144V154M871.5 144V154M872.5 144V154M873.5 145V154M874.5 145V154M875.5 145V155M876.5 143V155M877.5 146V153M878.5 146V153M879.5 146V153M880.5 146V153M881.5 145V153M882.5 145V153M883.5 146V152M884.5 146V152M885.5 146V152M886.5 146V152M887.5 146V152M888.5 146V152M889.5 146V152M890.5 146V152M891.5 146V152M892.5 145V152M893.5 146V152M894.5 146V152M895.5 146V152M896.5 146V152M897.5 146V153M898.5 146V153M899.5 146V153M900.5 146V153M901.5 146V153M902.5 146V153M903.5 145V154M904.5 146V152M905.5 146V152M906.5 146V152M907.5 146V153M908.5 146V153M909.5 146V153M910.5 146V152M911.5 146V152M912.5 145V152M913.5 145V153M914.5 145V153M915.5 145V153M916.5 145V153M917.5 145V153M918.5 145V154M919.5 145V154M920.5 145V154M921.5 145V154M922.5 145V154M923.5 145V153M924.5 145V153M925.5 145V153M926.5 145V153M927.5 145V153M928.5 145V152M929.5 145V152M930.5 146V152M931.5 146V152M932.5 146V152M933.5 146V152M934.5 146V152M935.5 146V152M936.5 146V152M937.5 146V152M938.5 146V152M939.5 146V152M940.5 146V152M941.5 146V152M942.5 146V152M943.5 146V152M944.5 146V153M945.5 146V152M946.5 145V152M947.5 145V152" stroke="#ff0000" stroke-width="1" fill="none" shape-rendering="crispEdges"/><path d="M99.5 168V177M100.5 168V177M101.5 168V176M102.5 168V176M103.5 168V177M104.5 168V176M105.5 167V177M106.5 168V178M107.5 169V176M108.5 169V176M109.5 168V178M110.5 167V178M111.5 166V178M112.5 163V179M113.5 165V179M114.5 168V179M115.5 168V179M116.5 166V178M117.5 168V178M118.5 166V177M119.5 168V179M120.5 168V177M121.5 166V177M122.5 168V178M123.5 168V177M124.5 167V177M125.5 168V179M126.5 165V180M127.5 167V177M128.5 167V178M129.5 168V177M130.5 168V177M131.5 168V179M132.5 168V177M133.5 168V177M134.5 168V177M135.5 166V177M136.5 167V177M137.5 168V177M138.5 168V177M139.5 168V177M140.5 166V180M141.5 168V178M142.5 168V177M143.5 168V177M144.5 166V177M145.5 166V178M146.5 168V179M147.5 169V176M148.5 168V177M149.5 165V177M150.5 167V178M151.5 168V178M152.5 168V177M153.5 168V177M154.5 168V177M155.5 168V178M156.5 168V176M157.5 168V177M158.5 168V178M159.5 168V177M160.5 167V177M161.5 166V177M162.5 163V177M163.5 167V177M164.5 168V178M165.5 165V178M166.5 168V178M167.5 168V177M168.5 165V176M169.5 165V177M170.5 168V177M171.5 168V178M172.5 165V179M173.5 168V178M174.5 168V178M175.5 167V177M176.5 167V177M177.5 168V178M178.5 167V177M179.5 168V179M180.5 166V177M181.5 167V176M182.5 168V179M183.5 169V177M184.5 168V177M185.5 168V177M186.5 168V177M187.5 167V177M188.5 168V177M189.5 168V180M190.5 168V177M191.5 168V179M192.5 168V176M193.5 168V177M194.5 168V177M195.5 166V177M196.5 168V177M197.5 167V176M198.5 169V176M199.5 168V176M200.5 167V177M201.5 168V177M202.5 168V177M203.5 165V178M204.5 167V180M205.5 168V178M206.5 168V177M207.5 169V176M208.5 169V178M209.5 167V177M210.5 166V176M211.5 168V177M212.5 168V176M213.5 166V177M214.5 166V176M215.5 168V176M216.5 166V179M217.5 166V177M218.5 167V177M219.5 166V178M220.5 168V178M221.5 168V177M222.5 165V179M223.5 168V178M224.5 167V179M225.5 168V179M226.5 167V177M227.5 167V179M228.5 168V178M229.5 168V177M230.5 168V177M231.5 167V179M232.5 164V177M233.5 168V178M234.5 168V177M235.5 167V178M236.5 168V177M237.5 167V177M238.5 165V178M239.5 168V178M240.5 168V177M241.5 168V177M242.5 168V177M243.5 168V179M244.5 168V179M245.5 166V177M246.5 168V177M247.5 168V180M248.5 168V178M249.5 168V178M250.5 168V179M251.5 166V178M252.5 167V177M253.5 168V178M254.5 168V177M255.5 168V177M256.5 168V178M257.5 168V177M258.5 165V177M259.5 165V179M260.5 167V178M261.5 168V180M262.5 168V177M263.5 168V177M264.5 167V177M265.5 168V179M266.5 167V179M267.5 165V178M268.5 167V177M269.5 168V177M270.5 168V176M271.5 167V178M272.5 168V177M273.5 168V177M274.5 168V177M275.5 166V177M276.5 168V177M277.5 166V179M278.5 168V177M279.5 165V177M280.5 166V177M281.5 168V176M282.5 167V177M283.5 168V177M284.5 168V177M285.5 168V177M286.5 168V180M287.5 168V180M288.5 168V177M289.5 168V177M290.5 167V178M291.5 168V177M292.5 168V177M293.5 168V178M294.5 166V177M295.5 168V178M296.5 167V179M297.5 168V176M298.5 166V179M299.5 167V177M300.5 167V180M301.5 167V177M302.5 168V178M303.5 168V177M304.5 167V177M305.5 166V177M306.5 168V178M307.5 166V179M308.5 167V178M309.5 167V179M310.5 167V178M311.5 167V178M312.5 165V178M313.5 166V177M314.5 166V178M315.5 166V179M316.5 168V177M317.5 167V177M318.5 168V178M319.5 168V178M320.5 168V177M321.5 167V181M322.5 166V177M323.5 167V178M324.5 167V179M325.5 167V182M326.5 166V181M327.5 168V178M328.5 168V178M329.5 167V178M330.5 164V178M331.5 165V180M332.5 167V178M333.5 167V177M334.5 167V178M335.5 166V177M336.5 167V178M337.5 167V177M338.5 166V177M339.5 167V177M340.5 168V177M341.5 168V178M342.5 166V178M343.5 167V178M344.5 166V177M345.5 167V180M346.5 166V177M347.5 167V178" stroke="#000000" stroke-width="1" fill="none" shape-rendering="crispEdges"/><line x1="348" y1="171.5" x2="948" y2="171.5" stroke="#000" stroke-width="1"/><rect x="112" y="78" width="2" height="7" fill="#d00000"/><rect x="99.5" y="58.5" width="849.0" height="610.0" fill="none" stroke="#000" stroke-width="3"/><line x1="169.5" y1="60" x2="169.5" y2="69" stroke="#000" stroke-width="3"/><line x1="169.5" y1="659" x2="169.5" y2="667" stroke="#000" stroke-width="3"/><line x1="240.5" y1="60" x2="240.5" y2="69" stroke="#000" stroke-width="3"/><line x1="240.5" y1="659" x2="240.5" y2="667" stroke="#000" stroke-width="3"/><line x1="240.5" y1="60" x2="240.5" y2="69" stroke="#e5e5e5" stroke-width="1"/><line x1="240.5" y1="659" x2="240.5" y2="670" stroke="#e5e5e5" stroke-width="1"/><line x1="311.5" y1="60" x2="311.5" y2="69" stroke="#000" stroke-width="3"/><line x1="311.5" y1="659" x2="311.5" y2="667" stroke="#000" stroke-width="3"/><line x1="382.5" y1="60" x2="382.5" y2="69" stroke="#000" stroke-width="3"/><line x1="382.5" y1="659" x2="382.5" y2="667" stroke="#000" stroke-width="3"/><line x1="382.5" y1="60" x2="382.5" y2="69" stroke="#e5e5e5" stroke-width="1"/><line x1="382.5" y1="659" x2="382.5" y2="670" stroke="#e5e5e5" stroke-width="1"/><line x1="453.5" y1="60" x2="453.5" y2="69" stroke="#000" stroke-width="3"/><line x1="453.5" y1="659" x2="453.5" y2="667" stroke="#000" stroke-width="3"/><line x1="523.5" y1="60" x2="523.5" y2="69" stroke="#000" stroke-width="3"/><line x1="523.5" y1="659" x2="523.5" y2="667" stroke="#000" stroke-width="3"/><line x1="523.5" y1="60" x2="523.5" y2="69" stroke="#e5e5e5" stroke-width="1"/><line x1="523.5" y1="659" x2="523.5" y2="670" stroke="#e5e5e5" stroke-width="1"/><line x1="594.5" y1="60" x2="594.5" y2="69" stroke="#000" stroke-width="3"/><line x1="594.5" y1="659" x2="594.5" y2="667" stroke="#000" stroke-width="3"/><line x1="665.5" y1="60" x2="665.5" y2="69" stroke="#000" stroke-width="3"/><line x1="665.5" y1="659" x2="665.5" y2="667" stroke="#000" stroke-width="3"/><line x1="665.5" y1="60" x2="665.5" y2="69" stroke="#e5e5e5" stroke-width="1"/><line x1="665.5" y1="659" x2="665.5" y2="670" stroke="#e5e5e5" stroke-width="1"/><line x1="736.5" y1="60" x2="736.5" y2="69" stroke="#000" stroke-width="3"/><line x1="736.5" y1="659" x2="736.5" y2="667" stroke="#000" stroke-width="3"/><line x1="807.5" y1="60" x2="807.5" y2="69" stroke="#000" stroke-width="3"/><line x1="807.5" y1="659" x2="807.5" y2="667" stroke="#000" stroke-width="3"/><line x1="807.5" y1="60" x2="807.5" y2="69" stroke="#e5e5e5" stroke-width="1"/><line x1="807.5" y1="659" x2="807.5" y2="670" stroke="#e5e5e5" stroke-width="1"/><line x1="878.5" y1="60" x2="878.5" y2="69" stroke="#000" stroke-width="3"/><line x1="878.5" y1="659" x2="878.5" y2="667" stroke="#000" stroke-width="3"/><text x="169.5" y="692.3" font-family="Liberation Sans, sans-serif" font-size="16" text-anchor="middle" fill="#000">5</text><text x="240.4" y="692.3" font-family="Liberation Sans, sans-serif" font-size="16" text-anchor="middle" fill="#000">10</text><text x="311.3" y="692.3" font-family="Liberation Sans, sans-serif" font-size="16" text-anchor="middle" fill="#000">15</text><text x="382.1" y="692.3" font-family="Liberation Sans, sans-serif" font-size="16" text-anchor="middle" fill="#000">20</text><text x="453.0" y="692.3" font-family="Liberation Sans, sans-serif" font-size="16" text-anchor="middle" fill="#000">25</text><text x="523.9" y="692.3" font-family="Liberation Sans, sans-serif" font-size="16" text-anchor="middle" fill="#000">30</text><text x="594.8" y="692.3" font-family="Liberation Sans, sans-serif" font-size="16" text-anchor="middle" fill="#000">35</text><text x="665.7" y="692.3" font-family="Liberation Sans, sans-serif" font-size="16" text-anchor="middle" fill="#000">40</text><text x="736.6" y="692.3" font-family="Liberation Sans, sans-serif" font-size="16" text-anchor="middle" fill="#000">45</text><text x="807.5" y="692.3" font-family="Liberation Sans, sans-serif" font-size="16" text-anchor="middle" fill="#000">50</text><text x="878.3" y="692.3" font-family="Liberation Sans, sans-serif" font-size="16" text-anchor="middle" fill="#000">55</text><text x="949.2" y="692.3" font-family="Liberation Sans, sans-serif" font-size="16" text-anchor="middle" fill="#000">60</text><text x="94.5" y="110.0" font-family="Liberation Sans, sans-serif" font-size="13.33" text-anchor="end" fill="#000">00</text><text x="953" y="110.0" font-family="Liberation Sans, sans-serif" font-size="13.33" text-anchor="start" fill="#000">01</text><text x="94.5" y="132.6" font-family="Liberation Sans, sans-serif" font-size="13.33" text-anchor="end" fill="#000">01</text><text x="953" y="132.6" font-family="Liberation Sans, sans-serif" font-size="13.33" text-anchor="start" fill="#000">02</text><text x="94.5" y="155.2" font-family="Liberation Sans, sans-serif" font-size="13.33" text-anchor="end" fill="#000">02</text><text x="953" y="155.2" font-family="Liberation Sans, sans-serif" font-size="13.33" text-anchor="start" fill="#000">03</text><text x="94.5" y="177.8" font-family="Liberation Sans, sans-serif" font-size="13.33" text-anchor="end" fill="#000">03</text><text x="953" y="177.8" font-family="Liberation Sans, sans-serif" font-size="13.33" text-anchor="start" fill="#000">04</text><text x="94.5" y="200.4" font-family="Liberation Sans, sans-serif" font-size="13.33" text-anchor="end" fill="#000">04</text><text x="953" y="200.4" font-family="Liberation Sans, sans-serif" font-size="13.33" text-anchor="start" fill="#000">05</text><text x="94.5" y="223.0" font-family="Liberation Sans, sans-serif" font-size="13.33" text-anchor="end" fill="#000">05</text><text x="953" y="223.0" font-family="Liberation Sans, sans-serif" font-size="13.33" text-anchor="start" fill="#000">06</text><text x="94.5" y="245.6" font-family="Liberation Sans, sans-serif" font-size="13.33" text-anchor="end" fill="#000">06</text><text x="953" y="245.6" font-family="Liberation Sans, sans-serif" font-size="13.33" text-anchor="start" fill="#000">07</text><text x="94.5" y="268.2" font-family="Liberation Sans, sans-serif" font-size="13.33" text-anchor="end" fill="#000">07</text><text x="953" y="268.2" font-family="Liberation Sans, sans-serif" font-size="13.33" text-anchor="start" fill="#000">08</text><text x="94.5" y="290.8" font-family="Liberation Sans, sans-serif" font-size="13.33" text-anchor="end" fill="#000">08</text><text x="953" y="290.8" font-family="Liberation Sans, sans-serif" font-size="13.33" text-anchor="start" fill="#000">09</text><text x="94.5" y="313.4" font-family="Liberation Sans, sans-serif" font-size="13.33" text-anchor="end" fill="#000">09</text><text x="953" y="313.4" font-family="Liberation Sans, sans-serif" font-size="13.33" text-anchor="start" fill="#000">10</text><text x="94.5" y="336.0" font-family="Liberation Sans, sans-serif" font-size="13.33" text-anchor="end" fill="#000">10</text><text x="953" y="336.0" font-family="Liberation Sans, sans-serif" font-size="13.33" text-anchor="start" fill="#000">11</text><text x="94.5" y="358.6" font-family="Liberation Sans, sans-serif" font-size="13.33" text-anchor="end" fill="#000">11</text><text x="953" y="358.6" font-family="Liberation Sans, sans-serif" font-size="13.33" text-anchor="start" fill="#000">12</text><text x="94.5" y="381.2" font-family="Liberation Sans, sans-serif" font-size="13.33" text-anchor="end" fill="#000">12</text><text x="953" y="381.2" font-family="Liberation Sans, sans-serif" font-size="13.33" text-anchor="start" fill="#000">13</text><text x="94.5" y="403.8" font-family="Liberation Sans, sans-serif" font-size="13.33" text-anchor="end" fill="#000">13</text><text x="953" y="403.8" font-family="Liberation Sans, sans-serif" font-size="13.33" text-anchor="start" fill="#000">14</text><text x="94.5" y="426.4" font-family="Liberation Sans, sans-serif" font-size="13.33" text-anchor="end" fill="#000">14</text><text x="953" y="426.4" font-family="Liberation Sans, sans-serif" font-size="13.33" text-anchor="start" fill="#000">15</text><text x="94.5" y="449.0" font-family="Liberation Sans, sans-serif" font-size="13.33" text-anchor="end" fill="#000">15</text><text x="953" y="449.0" font-family="Liberation Sans, sans-serif" font-size="13.33" text-anchor="start" fill="#000">16</text><text x="94.5" y="471.6" font-family="Liberation Sans, sans-serif" font-size="13.33" text-anchor="end" fill="#000">16</text><text x="953" y="471.6" font-family="Liberation Sans, sans-serif" font-size="13.33" text-anchor="start" fill="#000">17</text><text x="94.5" y="494.2" font-family="Liberation Sans, sans-serif" font-size="13.33" text-anchor="end" fill="#000">17</text><text x="953" y="494.2" font-family="Liberation Sans, sans-serif" font-size="13.33" text-anchor="start" fill="#000">18</text><text x="94.5" y="516.8" font-family="Liberation Sans, sans-serif" font-size="13.33" text-anchor="end" fill="#000">18</text><text x="953" y="516.8" font-family="Liberation Sans, sans-serif" font-size="13.33" text-anchor="start" fill="#000">19</text><text x="94.5" y="539.4" font-family="Liberation Sans, sans-serif" font-size="13.33" text-anchor="end" fill="#000">19</text><text x="953" y="539.4" font-family="Liberation Sans, sans-serif" font-size="13.33" text-anchor="start" fill="#000">20</text><text x="94.5" y="562.0" font-family="Liberation Sans, sans-serif" font-size="13.33" text-anchor="end" fill="#000">20</text><text x="953" y="562.0" font-family="Liberation Sans, sans-serif" font-size="13.33" text-anchor="start" fill="#000">21</text><text x="94.5" y="584.6" font-family="Liberation Sans, sans-serif" font-size="13.33" text-anchor="end" fill="#000">21</text><text x="953" y="584.6" font-family="Liberation Sans, sans-serif" font-size="13.33" text-anchor="start" fill="#000">22</text><text x="94.5" y="607.2" font-family="Liberation Sans, sans-serif" font-size="13.33" text-anchor="end" fill="#000">22</text><text x="953" y="607.2" font-family="Liberation Sans, sans-serif" font-size="13.33" text-anchor="start" fill="#000">23</text><text x="94.5" y="629.8" font-family="Liberation Sans, sans-serif" font-size="13.33" text-anchor="end" fill="#000">23</text><text x="953" y="629.8" font-family="Liberation Sans, sans-serif" font-size="13.33" text-anchor="start" fill="#000">24</text><text x="524.5" y="27" font-family="Liberation Sans, sans-serif" font-size="18.67" font-weight="bold" text-anchor="middle" fill="#000">INSTITUTO GEOGRÁFICO NACIONAL</text><text x="317.5" y="52" font-family="Liberation Sans, sans-serif" font-size="16" fill="#000">Estación:</text><text x="390.5" y="52" font-family="Liberation Sans, sans-serif" font-size="16" fill="#000" textLength="201" lengthAdjust="spacing">CTAB ( HHZ ) - EL HIERRO</text><text x="649" y="52" font-family="Liberation Sans, sans-serif" font-size="16" fill="#000">2025-10-05</text><text x="948.5" y="54.5" font-family="Liberation Sans, sans-serif" font-size="13.33" text-anchor="end" fill="#808080">[4 15] Hz</text><text x="127.5" y="85.5" font-family="Liberation Sans, sans-serif" font-size="10.5" fill="#858585">1000 nm/s</text><text x="524.5" y="714.6" font-family="Liberation Sans, sans-serif" font-size="16" text-anchor="middle" fill="#000">Tiempo (minutos)</text><text transform="translate(68.5 364.2) rotate(-90)" font-family="Liberation Sans, sans-serif" font-size="16.2" text-anchor="middle" fill="#000">Horas (UTC)</text></svg>
</body></html>
